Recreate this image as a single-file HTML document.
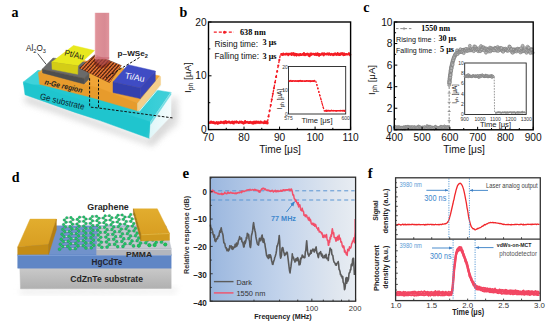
<!DOCTYPE html>
<html><head><meta charset="utf-8"><title>Figure</title>
<style>html,body{margin:0;padding:0;background:#fff;width:550px;height:324px;overflow:hidden}svg{display:block}</style>
</head><body>
<svg width="550" height="324" viewBox="0 0 550 324">
<rect width="550" height="324" fill="#fff"/>
<defs><filter id="blur3" x="-20%" y="-20%" width="140%" height="140%"><feGaussianBlur stdDeviation="3"/></filter><filter id="blur1" x="-20%" y="-20%" width="140%" height="140%"><feGaussianBlur stdDeviation="0.6"/></filter><linearGradient id="laser" x1="0" x2="1" y1="0" y2="0"><stop offset="0" stop-color="#eaa6ad"/><stop offset="0.12" stop-color="#dc8890"/><stop offset="0.7" stop-color="#d5808a"/><stop offset="1" stop-color="#de8c95"/></linearGradient><linearGradient id="laserv" x1="0" x2="0" y1="0" y2="1"><stop offset="0" stop-color="#fff" stop-opacity="0.35"/><stop offset="1" stop-color="#fff" stop-opacity="0"/></linearGradient><linearGradient id="cyanR" x1="0" x2="1" y1="0" y2="0"><stop offset="0" stop-color="#dff6f8"/><stop offset="1" stop-color="#f4fcfd"/></linearGradient><linearGradient id="gold" x1="0" x2="0" y1="0" y2="1"><stop offset="0" stop-color="#e2ad2e"/><stop offset="1" stop-color="#d89e22"/></linearGradient><linearGradient id="subd" x1="0" x2="0" y1="0" y2="1"><stop offset="0" stop-color="#c9c9c9"/><stop offset="1" stop-color="#b0b0b0"/></linearGradient><linearGradient id="cyanT" gradientUnits="userSpaceOnUse" x1="120" y1="0" x2="160" y2="0"><stop offset="0" stop-color="#22c8d1"/><stop offset="1" stop-color="#3ccfd8"/></linearGradient><clipPath id="flake"><polygon points="95,54.7 121.3,65.5 109.5,82.6 79.4,68"/></clipPath></defs>
<polygon points="26,95 150,140 172,108 176,112 152,146 24,102" fill="#cfcfcf" filter="url(#blur3)" opacity="0.8"/>
<polygon points="38,70.5 171,92.4 150.6,124 23.3,84" fill="url(#cyanT)"  stroke="url(#cyanT)" stroke-width="0.45" stroke-linejoin="round"/>
<polygon points="38,70.5 46,71.8 40,84.5 30,84.2 23.3,82" fill="#3ed2da"  stroke="#3ed2da" stroke-width="0.45" stroke-linejoin="round"/>
<polygon points="23.3,82 150.6,122 149.6,138.5 100,120.6 75,112.4 25,94.7" fill="#1fc5ce"  stroke="#1fc5ce" stroke-width="0.45" stroke-linejoin="round"/>
<polygon points="172,96 178,98 178,124 152,145 150,140" fill="#d4d4d4" filter="url(#blur3)" opacity="0.7"/>
<polygon points="150.6,122 171,92.4 171,116.3 149.6,138.5" fill="url(#cyanR)"  stroke="url(#cyanR)" stroke-width="0.45" stroke-linejoin="round"/>
<polygon points="150.6,122 171,92.4 171,94.6 150.6,124.5" fill="#6fdce2"  stroke="#6fdce2" stroke-width="0.45" stroke-linejoin="round"/>
<polygon points="62,56 160,76 137.6,103.5 38.4,72.4" fill="#efa436"  stroke="#efa436" stroke-width="0.45" stroke-linejoin="round"/>
<polygon points="38.4,72.4 100,88.4 137.4,103.5 137.4,110.8 90,97 39.7,84.3" fill="#e79b2c"  stroke="#e79b2c" stroke-width="0.45" stroke-linejoin="round"/>
<polygon points="137.4,103.5 160,76 160.6,77 160.6,85 139.5,110.3 137.4,111" fill="#f4cf8c"  stroke="#f4cf8c" stroke-width="0.45" stroke-linejoin="round"/>
<polyline points="139,111.6 161,85.6" fill="none" stroke="#e8fbfc" stroke-width="0.9" stroke-linejoin="round" />
<polygon points="53,58 99,64 84,78.4 42.1,69.2" fill="#6a6a6a"  stroke="#6a6a6a" stroke-width="0.45" stroke-linejoin="round"/>
<polygon points="42.1,69.2 84,78.4 84,84 42.6,72.9" fill="#4e4e4e"  stroke="#4e4e4e" stroke-width="0.45" stroke-linejoin="round"/>
<polygon points="84,78.4 89,73.5 89,79 84,84" fill="#5a5a5a"  stroke="#5a5a5a" stroke-width="0.45" stroke-linejoin="round"/>
<polygon points="73.5,45.5 94.5,50.5 78,65.7 51.8,62.1" fill="#e8e81e"  stroke="#e8e81e" stroke-width="0.45" stroke-linejoin="round"/>
<polygon points="51.8,62.1 78,65.7 77.7,74.3 52.1,69.3" fill="#d4cd16"  stroke="#d4cd16" stroke-width="0.45" stroke-linejoin="round"/>
<polygon points="95,54.7 121.3,65.5 109.5,82.6 79.4,68" fill="#4a2212"  stroke="#4a2212" stroke-width="0.45" stroke-linejoin="round"/>
<g clip-path="url(#flake)"><path d="M47.11,73.98L100.95,14.78M49.1,75.79L102.94,16.59M51.1,77.61L104.94,18.41M53.1,79.43L106.94,20.23M55.1,81.25L108.94,22.05M57.1,83.06L110.94,23.86M59.09,84.88L112.93,25.68M61.09,86.7L114.93,27.5M63.09,88.51L116.93,29.31M65.09,90.33L118.93,31.13M67.09,92.15L120.93,32.95M69.08,93.97L122.92,34.77M71.08,95.78L124.92,36.58M73.08,97.6L126.92,38.4M75.08,99.42L128.92,40.22M77.08,101.23L130.92,42.03M79.07,103.05L132.91,43.85M81.07,104.87L134.91,45.67M83.07,106.69L136.91,47.49M85.07,108.5L138.91,49.3M87.07,110.32L140.91,51.12M89.06,112.14L142.9,52.94M91.06,113.95L144.9,54.75M93.06,115.77L146.9,56.57M95.06,117.59L148.9,58.39M97.06,119.41L150.9,60.21M99.05,121.22L152.89,62.02" stroke="#c45a22" stroke-width="1.6"/><path d="M47.11,73.98L100.95,14.78M49.1,75.79L102.94,16.59M51.1,77.61L104.94,18.41M53.1,79.43L106.94,20.23M55.1,81.25L108.94,22.05M57.1,83.06L110.94,23.86M59.09,84.88L112.93,25.68M61.09,86.7L114.93,27.5M63.09,88.51L116.93,29.31M65.09,90.33L118.93,31.13M67.09,92.15L120.93,32.95M69.08,93.97L122.92,34.77M71.08,95.78L124.92,36.58M73.08,97.6L126.92,38.4M75.08,99.42L128.92,40.22M77.08,101.23L130.92,42.03M79.07,103.05L132.91,43.85M81.07,104.87L134.91,45.67M83.07,106.69L136.91,47.49M85.07,108.5L138.91,49.3M87.07,110.32L140.91,51.12M89.06,112.14L142.9,52.94M91.06,113.95L144.9,54.75M93.06,115.77L146.9,56.57M95.06,117.59L148.9,58.39M97.06,119.41L150.9,60.21M99.05,121.22L152.89,62.02" stroke="#f08040" stroke-width="1.2" stroke-linecap="round" stroke-dasharray="0.3,1.8"/></g>
<g clip-path="url(#flake)"><ellipse cx="102" cy="62" rx="8" ry="6" fill="#6a1414" opacity="0.5"/></g>
<rect x="94.8" y="12.8" width="14.4" height="46.5" fill="url(#laser)" opacity="0.92"/>
<polygon points="95,57 109.2,57 109.2,62 102,66 95,61" fill="#c8606a" opacity="0.45"/>
<polygon points="128,64.7 155.3,71 140.5,88 113,82" fill="#3f4cc4"  stroke="#3f4cc4" stroke-width="0.45" stroke-linejoin="round"/>
<polygon points="113,82 140.5,88 140.2,98.6 113,92.6" fill="#3340ad"  stroke="#3340ad" stroke-width="0.45" stroke-linejoin="round"/>
<polygon points="140.5,88 155.3,71 155.3,81 140.2,98.6" fill="#3944b6"  stroke="#3944b6" stroke-width="0.45" stroke-linejoin="round"/>
<path d="M139.5,57.5L106,77.5 M89.6,78.2V105.5Q89.6,107 91,107.2L98.5,108 M98.5,79.5V108 L172.5,117.9" stroke="#111" stroke-width="1" stroke-dasharray="2.6,1.6" fill="none"/>
<text x="26" y="50.7" font-family="Liberation Sans" font-size="9" fill="#222" textLength="20" lengthAdjust="spacingAndGlyphs">Al<tspan font-size="6.2" dy="1.8">2</tspan><tspan dy="-1.8">O</tspan><tspan font-size="6.2" dy="1.8">3</tspan></text>
<path d="M37.7,53.6L46.2,64.4" stroke="#222" stroke-width="0.8"/>
<text transform="translate(64,55.3) rotate(13.3)" font-family="Liberation Sans" font-size="8.6" fill="#1a1a1a" textLength="19.5" lengthAdjust="spacingAndGlyphs">Pt/Au</text>
<text x="117.6" y="55.9" font-family="Liberation Sans" font-size="7.8" font-weight="bold" fill="#1a1a1a" textLength="30.4" lengthAdjust="spacingAndGlyphs">p&#8211;WSe<tspan font-size="5.4" dy="1.8">2</tspan></text>
<text transform="translate(124.4,78.2) rotate(11)" font-family="Liberation Sans" font-size="8.6" fill="#fff" textLength="20" lengthAdjust="spacingAndGlyphs">Ti/Au</text>
<text transform="translate(44.3,84.2) rotate(13.1)" font-family="Liberation Sans" font-size="7.6" font-style="italic" font-weight="bold" fill="#1e1e1e" textLength="38.5" lengthAdjust="spacingAndGlyphs">n-Ge region</text>
<text transform="translate(39.6,99) rotate(13.6)" font-family="Liberation Sans" font-size="8.8" fill="#0b2630" textLength="45.5" lengthAdjust="spacingAndGlyphs">Ge substrate</text>
<polygon points="20,289 172,289 176,286 176,293 20,294" fill="#dedede" filter="url(#blur3)" opacity="0.6"/>
<polygon points="19.8,268.1 171.2,268.1 171.2,288.4 20.5,288.8" fill="url(#subd)"  stroke="url(#subd)" stroke-width="0.45" stroke-linejoin="round"/>
<polygon points="44,225.8 166,225.8 171.2,255 17.7,255" fill="#7192cb"  stroke="#7192cb" stroke-width="0.45" stroke-linejoin="round"/>
<polygon points="17.7,254.8 171.2,254.8 171.2,268.2 17.7,268.2" fill="#5f86c5"  stroke="#5f86c5" stroke-width="0.45" stroke-linejoin="round"/>
<polyline points="17.7,255.4 171.2,255.4" fill="none" stroke="#7c9ed6" stroke-width="1.0" stroke-linejoin="round" />
<polygon points="98.5,226.5 166,226.5 171.2,248.5 96.6,248.5" fill="#c3c7cf"  stroke="#c3c7cf" stroke-width="0.45" stroke-linejoin="round"/>
<polygon points="96.6,248.5 171.2,248.5 171.2,255 96.6,255" fill="#b2b6be"  stroke="#b2b6be" stroke-width="0.45" stroke-linejoin="round"/>
<polyline points="96.6,249.3 171.2,249.3" fill="none" stroke="#d2d5db" stroke-width="1.0" stroke-linejoin="round" />
<path d="M64.01,236.59L68.88,236.37M127.41,233.64L130.57,235.96M151.8,232.5L156.67,232.27M145.41,218.25L149.82,218.04M132.32,226.04L133.81,223.55M138.37,223.32L139.73,220.89M140.2,228.11L141.6,225.59M78.64,235.91L83.52,235.68M111.89,229.46L114.73,231.75M83.44,240.63L85.96,238.02M96.96,220.64L99.39,222.86M93.77,245.15L98.97,244.92M133.92,230.85L137.17,233.18M83.74,221.3L85.95,223.52M65.43,226.86L69.99,226.64M100.34,232.43L105.14,232.2M105.12,215.86L109.38,215.64M116.26,217.43L117.9,215.21M75.72,243.48L78.4,240.86M63.54,224.61L66.12,222.17M108.64,239.47L113.67,239.24M68.32,241.32L71.08,238.71M143.91,237.85L147.42,240.22M156.21,242.34L161.41,242.1M111.02,224.65L112.84,222.2M126.05,228.78L127.69,226.26M76.67,228.71L78.87,231.03M90.75,232.88L93.27,235.23M83.67,225.97L85.95,223.52M161.41,242.1L162.79,239.52M105.79,237.1L107.9,234.55M70.53,221.95L72.95,219.59M69.44,231.47L72.04,228.93M98.15,235L100.83,237.33M106.46,224.87L111.02,224.65M62.76,229.38L64.72,231.7M63.28,241.55L68.32,241.32M69.44,231.47L71.56,233.78M133.92,230.85L135.48,228.34M103.87,222.64L105.77,220.21M145.8,242.81L147.42,240.22M146.24,225.37L149.63,227.66M77.28,219.37L79.34,221.51M119.53,231.53L121.33,229.01M128.79,238.55L132.05,240.92M127.69,226.26L132.32,226.04M71.56,233.78L76.36,233.56M75.39,248.51L78.16,245.86M71.08,238.71L76.04,238.48M70.53,221.95L72.5,224.18M117.32,221.99L118.98,219.56M118.98,219.56L123.39,219.34M64.28,220.02L66.12,222.17M97.74,230.13L99.86,227.6M124.99,243.75L130.19,243.51M152.54,239.99L153.99,237.39M145.45,235.27L150.41,235.04M138.83,245.67L140.6,243.04M111.89,229.46L113.77,226.93M91.08,242.79L93.77,245.15M153.99,237.39L159.03,237.16M137.17,233.18L142.04,232.95M132.2,218.91L136.6,218.69M83.59,230.8L85.95,228.26M122.53,233.86L127.41,233.64M130.19,243.51L132.05,240.92M150.41,235.04L153.99,237.39M97.34,225.31L99.39,222.86M118.41,226.71L121.33,229.01M98.56,239.94L101.32,242.32M69.99,226.64L72.5,224.18M85.94,218.94L90.27,218.73M107.18,229.68L111.89,229.46M129.26,216.79L130.69,214.57M66.76,217.79L71.02,217.57M91.25,247.8L93.77,245.15M76.67,228.71L79.11,226.19M130.76,221.33L133.81,223.55M60.35,244.18L63.28,241.55M79.55,217.14L83.81,216.93M135.53,235.73L137.17,233.18M113.67,239.24L116.69,241.62M113.77,226.93L118.41,226.71M121.81,241.39L123.75,238.78M90.75,232.88L93.03,230.35M99.86,227.6L104.5,227.37M90.91,237.79L93.27,235.23M68.32,241.32L70.59,243.72M103.27,218.08L105.77,220.21M90.43,223.3L92.78,225.53M93.27,235.23L98.15,235M98.97,244.92L101.32,242.32M79.11,226.19L83.67,225.97M104.5,227.37L107.18,229.68M75.72,243.48L78.16,245.86M83.44,240.63L85.96,243.02M59.53,249.22L62.55,246.56M92.55,220.86L96.96,220.64M114.58,244.21L116.69,241.62M152.05,222.66L155.51,224.93M161.41,242.1L165.26,244.48M83.36,245.62L85.96,243.02M105.79,237.1L108.64,239.47M142.25,216.14L145.41,218.25M129.12,231.07L133.92,230.85M141.6,225.59L146.24,225.37M106.45,242.09L108.64,239.47M90.27,218.73L92.33,216.5M138.37,223.32L141.6,225.59M67.75,246.33L70.59,243.72M76.98,223.96L79.11,226.19M90.59,228.04L93.03,230.35M64.72,231.7L69.44,231.47M76.04,238.48L78.64,235.91M124.7,223.99L127.69,226.26M62.55,246.56L67.75,246.33M72.04,228.93L76.67,228.71M78.87,231.03L83.59,230.8M93.52,240.17L98.56,239.94M61.17,239.17L64.01,236.59M70.59,243.72L75.72,243.48M144.21,220.67L147.49,222.88M85.95,228.26L90.59,228.04M136.6,218.69L137.92,216.35M62.76,229.38L65.43,226.86M122.17,215L124.93,217M121.81,241.39L124.99,243.75M154.69,244.96L156.21,242.34M109.38,244.45L114.58,244.21M130.19,243.51L133.54,245.9M147.42,240.22L152.54,239.99M76.36,233.56L78.64,235.91M126.28,221.55L130.76,221.33M149.82,218.04L150.92,215.71M105.14,232.2L107.9,234.55M78.4,240.86L83.44,240.63M132.05,240.92L137.18,240.69M77.28,219.37L79.55,217.14M145.8,242.81L149.4,245.19M129.26,216.79L132.2,218.91M116.26,217.43L118.98,219.56M61.97,234.24L64.01,236.59M133.81,223.55L138.37,223.32M142.04,232.95L143.51,230.4M143.48,213.93L147.74,213.71M138.87,238.09L143.91,237.85M60.35,244.18L62.55,246.56M123.75,238.78L128.79,238.55M135.53,235.73L138.87,238.09M134.95,214.36L137.92,216.35M156.67,232.27L160.32,234.58M149.4,245.19L154.69,244.96M96.6,216.29L98.94,218.3M111.02,224.65L113.77,226.93M111.93,217.65L116.26,217.43M135.48,228.34L140.2,228.11M156.67,232.27L157.9,229.72M83.67,225.97L85.95,228.26M85.95,233.11L90.75,232.88M122.97,246.38L124.99,243.75M147.74,213.71L150.92,215.71M76.36,233.56L78.87,231.03M92.78,225.53L97.34,225.31M107.11,247.09L109.38,244.45M146.24,225.37L147.49,222.88M117.9,215.21L122.17,215M124.93,217L129.26,216.79M97.34,225.31L99.86,227.6M109.38,215.64L111.93,217.65M98.97,244.92L101.82,247.32M120.66,236.41L122.53,233.86M105.77,220.21L110.17,219.99M63.54,224.61L65.43,226.86M76.04,238.48L78.4,240.86M114.58,244.21L117.68,246.61M147.49,222.88L152.05,222.66M116.69,241.62L121.81,241.39M117.32,221.99L120.14,224.21M83.36,245.62L85.96,248.03M101.32,242.32L106.45,242.09M85.96,243.02L91.08,242.79M90.91,237.79L93.52,240.17M90.27,218.73L92.55,220.86M120.14,224.21L124.7,223.99M66.12,222.17L70.53,221.95M130.69,214.57L134.95,214.36M76.98,223.96L79.34,221.51M152.54,239.99L156.21,242.34M149.82,218.04L153.17,220.23M103.27,218.08L105.12,215.86M98.15,235L100.34,232.43M159.03,237.16L160.32,234.58M119.53,231.53L122.53,233.86M112.78,234.32L114.73,231.75M112.84,222.2L117.32,221.99M133.54,245.9L138.83,245.67M142.04,232.95L145.45,235.27M118.41,226.71L120.14,224.21M159.03,237.16L162.79,239.52M104.5,227.37L106.46,224.87M85.95,223.52L90.43,223.3M78.16,245.86L83.36,245.62M69.99,226.64L72.04,228.93M139.73,220.89L144.21,220.67M72.95,219.59L77.28,219.37M93.03,230.35L97.74,230.13M123.39,219.34L124.93,217M130.76,221.33L132.2,218.91M149.63,227.66L154.35,227.44M92.33,216.5L96.6,216.29M126.05,228.78L129.12,231.07M117.68,246.61L122.97,246.38M101.82,247.32L107.11,247.09M91.08,242.79L93.52,240.17M68.88,236.37L71.56,233.78M72.5,224.18L76.98,223.96M85.96,248.03L91.25,247.8M142.25,216.14L143.48,213.93M98.94,218.3L103.27,218.08M112.78,234.32L115.7,236.64M137.92,216.35L142.25,216.14M71.02,217.57L72.95,219.59M143.51,230.4L148.31,230.17M128.79,238.55L130.57,235.96M83.52,235.68L85.96,238.02M127.41,233.64L129.12,231.07M154.35,227.44L157.9,229.72M123.39,219.34L126.28,221.55M106.45,242.09L109.38,244.45M132.32,226.04L135.48,228.34M67.75,246.33L70.1,248.74M140.2,228.11L143.51,230.4M79.34,221.51L83.74,221.3M90.59,228.04L92.78,225.53M83.81,216.93L85.94,218.94M143.91,237.85L145.45,235.27M83.74,221.3L85.94,218.94M103.87,222.64L106.46,224.87M96.96,220.64L98.94,218.3M107.9,234.55L112.78,234.32M136.6,218.69L139.73,220.89M140.6,243.04L145.8,242.81M152.05,222.66L153.17,220.23M61.17,239.17L63.28,241.55M64.28,220.02L66.76,217.79M137.18,240.69L138.87,238.09M148.31,230.17L151.8,232.5M130.57,235.96L135.53,235.73M98.56,239.94L100.83,237.33M83.59,230.8L85.95,233.11M110.17,219.99L111.93,217.65M99.39,222.86L103.87,222.64M121.33,229.01L126.05,228.78M154.35,227.44L155.51,224.93M90.43,223.3L92.55,220.86M124.7,223.99L126.28,221.55M83.52,235.68L85.95,233.11M150.41,235.04L151.8,232.5M70.1,248.74L75.39,248.51M120.66,236.41L123.75,238.78M115.7,236.64L120.66,236.41M105.14,232.2L107.18,229.68M100.83,237.33L105.79,237.1M113.67,239.24L115.7,236.64M85.96,238.02L90.91,237.79M114.73,231.75L119.53,231.53M68.88,236.37L71.08,238.71M110.17,219.99L112.84,222.2M61.97,234.24L64.72,231.7M144.21,220.67L145.41,218.25M148.31,230.17L149.63,227.66M137.18,240.69L140.6,243.04M97.74,230.13L100.34,232.43" stroke="#2a323a" stroke-width="1.4" opacity="0.5"/>
<path d="M64.01,236.59L68.88,236.37M127.41,233.64L130.57,235.96M151.8,232.5L156.67,232.27M145.41,218.25L149.82,218.04M132.32,226.04L133.81,223.55M138.37,223.32L139.73,220.89M140.2,228.11L141.6,225.59M78.64,235.91L83.52,235.68M111.89,229.46L114.73,231.75M83.44,240.63L85.96,238.02M96.96,220.64L99.39,222.86M93.77,245.15L98.97,244.92M133.92,230.85L137.17,233.18M83.74,221.3L85.95,223.52M65.43,226.86L69.99,226.64M100.34,232.43L105.14,232.2M105.12,215.86L109.38,215.64M116.26,217.43L117.9,215.21M75.72,243.48L78.4,240.86M63.54,224.61L66.12,222.17M108.64,239.47L113.67,239.24M68.32,241.32L71.08,238.71M143.91,237.85L147.42,240.22M156.21,242.34L161.41,242.1M111.02,224.65L112.84,222.2M126.05,228.78L127.69,226.26M76.67,228.71L78.87,231.03M90.75,232.88L93.27,235.23M83.67,225.97L85.95,223.52M161.41,242.1L162.79,239.52M105.79,237.1L107.9,234.55M70.53,221.95L72.95,219.59M69.44,231.47L72.04,228.93M98.15,235L100.83,237.33M106.46,224.87L111.02,224.65M62.76,229.38L64.72,231.7M63.28,241.55L68.32,241.32M69.44,231.47L71.56,233.78M133.92,230.85L135.48,228.34M103.87,222.64L105.77,220.21M145.8,242.81L147.42,240.22M146.24,225.37L149.63,227.66M77.28,219.37L79.34,221.51M119.53,231.53L121.33,229.01M128.79,238.55L132.05,240.92M127.69,226.26L132.32,226.04M71.56,233.78L76.36,233.56M75.39,248.51L78.16,245.86M71.08,238.71L76.04,238.48M70.53,221.95L72.5,224.18M117.32,221.99L118.98,219.56M118.98,219.56L123.39,219.34M64.28,220.02L66.12,222.17M97.74,230.13L99.86,227.6M124.99,243.75L130.19,243.51M152.54,239.99L153.99,237.39M145.45,235.27L150.41,235.04M138.83,245.67L140.6,243.04M111.89,229.46L113.77,226.93M91.08,242.79L93.77,245.15M153.99,237.39L159.03,237.16M137.17,233.18L142.04,232.95M132.2,218.91L136.6,218.69M83.59,230.8L85.95,228.26M122.53,233.86L127.41,233.64M130.19,243.51L132.05,240.92M150.41,235.04L153.99,237.39M97.34,225.31L99.39,222.86M118.41,226.71L121.33,229.01M98.56,239.94L101.32,242.32M69.99,226.64L72.5,224.18M85.94,218.94L90.27,218.73M107.18,229.68L111.89,229.46M129.26,216.79L130.69,214.57M66.76,217.79L71.02,217.57M91.25,247.8L93.77,245.15M76.67,228.71L79.11,226.19M130.76,221.33L133.81,223.55M60.35,244.18L63.28,241.55M79.55,217.14L83.81,216.93M135.53,235.73L137.17,233.18M113.67,239.24L116.69,241.62M113.77,226.93L118.41,226.71M121.81,241.39L123.75,238.78M90.75,232.88L93.03,230.35M99.86,227.6L104.5,227.37M90.91,237.79L93.27,235.23M68.32,241.32L70.59,243.72M103.27,218.08L105.77,220.21M90.43,223.3L92.78,225.53M93.27,235.23L98.15,235M98.97,244.92L101.32,242.32M79.11,226.19L83.67,225.97M104.5,227.37L107.18,229.68M75.72,243.48L78.16,245.86M83.44,240.63L85.96,243.02M59.53,249.22L62.55,246.56M92.55,220.86L96.96,220.64M114.58,244.21L116.69,241.62M152.05,222.66L155.51,224.93M161.41,242.1L165.26,244.48M83.36,245.62L85.96,243.02M105.79,237.1L108.64,239.47M142.25,216.14L145.41,218.25M129.12,231.07L133.92,230.85M141.6,225.59L146.24,225.37M106.45,242.09L108.64,239.47M90.27,218.73L92.33,216.5M138.37,223.32L141.6,225.59M67.75,246.33L70.59,243.72M76.98,223.96L79.11,226.19M90.59,228.04L93.03,230.35M64.72,231.7L69.44,231.47M76.04,238.48L78.64,235.91M124.7,223.99L127.69,226.26M62.55,246.56L67.75,246.33M72.04,228.93L76.67,228.71M78.87,231.03L83.59,230.8M93.52,240.17L98.56,239.94M61.17,239.17L64.01,236.59M70.59,243.72L75.72,243.48M144.21,220.67L147.49,222.88M85.95,228.26L90.59,228.04M136.6,218.69L137.92,216.35M62.76,229.38L65.43,226.86M122.17,215L124.93,217M121.81,241.39L124.99,243.75M154.69,244.96L156.21,242.34M109.38,244.45L114.58,244.21M130.19,243.51L133.54,245.9M147.42,240.22L152.54,239.99M76.36,233.56L78.64,235.91M126.28,221.55L130.76,221.33M149.82,218.04L150.92,215.71M105.14,232.2L107.9,234.55M78.4,240.86L83.44,240.63M132.05,240.92L137.18,240.69M77.28,219.37L79.55,217.14M145.8,242.81L149.4,245.19M129.26,216.79L132.2,218.91M116.26,217.43L118.98,219.56M61.97,234.24L64.01,236.59M133.81,223.55L138.37,223.32M142.04,232.95L143.51,230.4M143.48,213.93L147.74,213.71M138.87,238.09L143.91,237.85M60.35,244.18L62.55,246.56M123.75,238.78L128.79,238.55M135.53,235.73L138.87,238.09M134.95,214.36L137.92,216.35M156.67,232.27L160.32,234.58M149.4,245.19L154.69,244.96M96.6,216.29L98.94,218.3M111.02,224.65L113.77,226.93M111.93,217.65L116.26,217.43M135.48,228.34L140.2,228.11M156.67,232.27L157.9,229.72M83.67,225.97L85.95,228.26M85.95,233.11L90.75,232.88M122.97,246.38L124.99,243.75M147.74,213.71L150.92,215.71M76.36,233.56L78.87,231.03M92.78,225.53L97.34,225.31M107.11,247.09L109.38,244.45M146.24,225.37L147.49,222.88M117.9,215.21L122.17,215M124.93,217L129.26,216.79M97.34,225.31L99.86,227.6M109.38,215.64L111.93,217.65M98.97,244.92L101.82,247.32M120.66,236.41L122.53,233.86M105.77,220.21L110.17,219.99M63.54,224.61L65.43,226.86M76.04,238.48L78.4,240.86M114.58,244.21L117.68,246.61M147.49,222.88L152.05,222.66M116.69,241.62L121.81,241.39M117.32,221.99L120.14,224.21M83.36,245.62L85.96,248.03M101.32,242.32L106.45,242.09M85.96,243.02L91.08,242.79M90.91,237.79L93.52,240.17M90.27,218.73L92.55,220.86M120.14,224.21L124.7,223.99M66.12,222.17L70.53,221.95M130.69,214.57L134.95,214.36M76.98,223.96L79.34,221.51M152.54,239.99L156.21,242.34M149.82,218.04L153.17,220.23M103.27,218.08L105.12,215.86M98.15,235L100.34,232.43M159.03,237.16L160.32,234.58M119.53,231.53L122.53,233.86M112.78,234.32L114.73,231.75M112.84,222.2L117.32,221.99M133.54,245.9L138.83,245.67M142.04,232.95L145.45,235.27M118.41,226.71L120.14,224.21M159.03,237.16L162.79,239.52M104.5,227.37L106.46,224.87M85.95,223.52L90.43,223.3M78.16,245.86L83.36,245.62M69.99,226.64L72.04,228.93M139.73,220.89L144.21,220.67M72.95,219.59L77.28,219.37M93.03,230.35L97.74,230.13M123.39,219.34L124.93,217M130.76,221.33L132.2,218.91M149.63,227.66L154.35,227.44M92.33,216.5L96.6,216.29M126.05,228.78L129.12,231.07M117.68,246.61L122.97,246.38M101.82,247.32L107.11,247.09M91.08,242.79L93.52,240.17M68.88,236.37L71.56,233.78M72.5,224.18L76.98,223.96M85.96,248.03L91.25,247.8M142.25,216.14L143.48,213.93M98.94,218.3L103.27,218.08M112.78,234.32L115.7,236.64M137.92,216.35L142.25,216.14M71.02,217.57L72.95,219.59M143.51,230.4L148.31,230.17M128.79,238.55L130.57,235.96M83.52,235.68L85.96,238.02M127.41,233.64L129.12,231.07M154.35,227.44L157.9,229.72M123.39,219.34L126.28,221.55M106.45,242.09L109.38,244.45M132.32,226.04L135.48,228.34M67.75,246.33L70.1,248.74M140.2,228.11L143.51,230.4M79.34,221.51L83.74,221.3M90.59,228.04L92.78,225.53M83.81,216.93L85.94,218.94M143.91,237.85L145.45,235.27M83.74,221.3L85.94,218.94M103.87,222.64L106.46,224.87M96.96,220.64L98.94,218.3M107.9,234.55L112.78,234.32M136.6,218.69L139.73,220.89M140.6,243.04L145.8,242.81M152.05,222.66L153.17,220.23M61.17,239.17L63.28,241.55M64.28,220.02L66.76,217.79M137.18,240.69L138.87,238.09M148.31,230.17L151.8,232.5M130.57,235.96L135.53,235.73M98.56,239.94L100.83,237.33M83.59,230.8L85.95,233.11M110.17,219.99L111.93,217.65M99.39,222.86L103.87,222.64M121.33,229.01L126.05,228.78M154.35,227.44L155.51,224.93M90.43,223.3L92.55,220.86M124.7,223.99L126.28,221.55M83.52,235.68L85.95,233.11M150.41,235.04L151.8,232.5M70.1,248.74L75.39,248.51M120.66,236.41L123.75,238.78M115.7,236.64L120.66,236.41M105.14,232.2L107.18,229.68M100.83,237.33L105.79,237.1M113.67,239.24L115.7,236.64M85.96,238.02L90.91,237.79M114.73,231.75L119.53,231.53M68.88,236.37L71.08,238.71M110.17,219.99L112.84,222.2M61.97,234.24L64.72,231.7M144.21,220.67L145.41,218.25M148.31,230.17L149.63,227.66M137.18,240.69L140.6,243.04M97.74,230.13L100.34,232.43" stroke="#f4f6f8" stroke-width="0.85"/>
<g fill="#21c268" stroke="#12894a" stroke-width="0.3"><circle cx="79.55" cy="217.14" r="1.25"/><circle cx="143.48" cy="213.93" r="1.25"/><circle cx="96.6" cy="216.29" r="1.25"/><circle cx="109.38" cy="215.64" r="1.25"/><circle cx="134.95" cy="214.36" r="1.25"/><circle cx="83.81" cy="216.93" r="1.25"/><circle cx="92.33" cy="216.5" r="1.25"/><circle cx="117.9" cy="215.21" r="1.25"/><circle cx="66.76" cy="217.79" r="1.25"/><circle cx="122.17" cy="215" r="1.25"/><circle cx="130.69" cy="214.57" r="1.25"/><circle cx="147.74" cy="213.71" r="1.25"/><circle cx="105.12" cy="215.86" r="1.25"/><circle cx="71.02" cy="217.57" r="1.25"/><circle cx="77.28" cy="219.37" r="1.27"/><circle cx="124.93" cy="217" r="1.27"/><circle cx="90.27" cy="218.73" r="1.27"/><circle cx="116.26" cy="217.43" r="1.27"/><circle cx="103.27" cy="218.08" r="1.27"/><circle cx="129.26" cy="216.79" r="1.27"/><circle cx="72.95" cy="219.59" r="1.27"/><circle cx="98.94" cy="218.3" r="1.27"/><circle cx="85.94" cy="218.94" r="1.27"/><circle cx="64.28" cy="220.02" r="1.27"/><circle cx="111.93" cy="217.65" r="1.27"/><circle cx="137.92" cy="216.35" r="1.27"/><circle cx="150.92" cy="215.71" r="1.27"/><circle cx="142.25" cy="216.14" r="1.27"/><circle cx="83.74" cy="221.3" r="1.29"/><circle cx="92.55" cy="220.86" r="1.29"/><circle cx="118.98" cy="219.56" r="1.29"/><circle cx="66.12" cy="222.17" r="1.29"/><circle cx="123.39" cy="219.34" r="1.29"/><circle cx="132.2" cy="218.91" r="1.29"/><circle cx="149.82" cy="218.04" r="1.29"/><circle cx="105.77" cy="220.21" r="1.29"/><circle cx="70.53" cy="221.95" r="1.29"/><circle cx="79.34" cy="221.51" r="1.29"/><circle cx="145.41" cy="218.25" r="1.29"/><circle cx="96.96" cy="220.64" r="1.29"/><circle cx="110.17" cy="219.99" r="1.29"/><circle cx="136.6" cy="218.69" r="1.29"/><circle cx="85.95" cy="223.52" r="1.31"/><circle cx="144.21" cy="220.67" r="1.31"/><circle cx="76.98" cy="223.96" r="1.31"/><circle cx="126.28" cy="221.55" r="1.31"/><circle cx="153.17" cy="220.23" r="1.31"/><circle cx="117.32" cy="221.99" r="1.31"/><circle cx="72.5" cy="224.18" r="1.31"/><circle cx="90.43" cy="223.3" r="1.31"/><circle cx="99.39" cy="222.86" r="1.31"/><circle cx="103.87" cy="222.64" r="1.31"/><circle cx="63.54" cy="224.61" r="1.31"/><circle cx="112.84" cy="222.2" r="1.31"/><circle cx="130.76" cy="221.33" r="1.31"/><circle cx="139.73" cy="220.89" r="1.31"/><circle cx="69.99" cy="226.64" r="1.34"/><circle cx="79.11" cy="226.19" r="1.34"/><circle cx="97.34" cy="225.31" r="1.34"/><circle cx="147.49" cy="222.88" r="1.34"/><circle cx="111.02" cy="224.65" r="1.34"/><circle cx="138.37" cy="223.32" r="1.34"/><circle cx="65.43" cy="226.86" r="1.34"/><circle cx="83.67" cy="225.97" r="1.34"/><circle cx="92.78" cy="225.53" r="1.34"/><circle cx="120.14" cy="224.21" r="1.34"/><circle cx="124.7" cy="223.99" r="1.34"/><circle cx="133.81" cy="223.55" r="1.34"/><circle cx="152.05" cy="222.66" r="1.34"/><circle cx="106.46" cy="224.87" r="1.34"/><circle cx="72.04" cy="228.93" r="1.36"/><circle cx="99.86" cy="227.6" r="1.36"/><circle cx="104.5" cy="227.37" r="1.36"/><circle cx="62.76" cy="229.38" r="1.36"/><circle cx="113.77" cy="226.93" r="1.36"/><circle cx="132.32" cy="226.04" r="1.36"/><circle cx="141.6" cy="225.59" r="1.36"/><circle cx="85.95" cy="228.26" r="1.36"/><circle cx="146.24" cy="225.37" r="1.36"/><circle cx="127.69" cy="226.26" r="1.36"/><circle cx="76.67" cy="228.71" r="1.36"/><circle cx="155.51" cy="224.93" r="1.36"/><circle cx="90.59" cy="228.04" r="1.36"/><circle cx="118.41" cy="226.71" r="1.36"/><circle cx="107.18" cy="229.68" r="1.38"/><circle cx="69.44" cy="231.47" r="1.38"/><circle cx="78.87" cy="231.03" r="1.38"/><circle cx="149.63" cy="227.66" r="1.38"/><circle cx="97.74" cy="230.13" r="1.38"/><circle cx="111.89" cy="229.46" r="1.38"/><circle cx="140.2" cy="228.11" r="1.38"/><circle cx="83.59" cy="230.8" r="1.38"/><circle cx="93.03" cy="230.35" r="1.38"/><circle cx="121.33" cy="229.01" r="1.38"/><circle cx="64.72" cy="231.7" r="1.38"/><circle cx="126.05" cy="228.78" r="1.38"/><circle cx="135.48" cy="228.34" r="1.38"/><circle cx="154.35" cy="227.44" r="1.38"/><circle cx="76.36" cy="233.56" r="1.4"/><circle cx="90.75" cy="232.88" r="1.4"/><circle cx="119.53" cy="231.53" r="1.4"/><circle cx="105.14" cy="232.2" r="1.4"/><circle cx="133.92" cy="230.85" r="1.4"/><circle cx="71.56" cy="233.78" r="1.4"/><circle cx="100.34" cy="232.43" r="1.4"/><circle cx="85.95" cy="233.11" r="1.4"/><circle cx="114.73" cy="231.75" r="1.4"/><circle cx="61.97" cy="234.24" r="1.4"/><circle cx="143.51" cy="230.4" r="1.4"/><circle cx="129.12" cy="231.07" r="1.4"/><circle cx="157.9" cy="229.72" r="1.4"/><circle cx="148.31" cy="230.17" r="1.4"/><circle cx="112.78" cy="234.32" r="1.42"/><circle cx="142.04" cy="232.95" r="1.42"/><circle cx="83.52" cy="235.68" r="1.42"/><circle cx="93.27" cy="235.23" r="1.42"/><circle cx="122.53" cy="233.86" r="1.42"/><circle cx="64.01" cy="236.59" r="1.42"/><circle cx="127.41" cy="233.64" r="1.42"/><circle cx="137.17" cy="233.18" r="1.42"/><circle cx="156.67" cy="232.27" r="1.42"/><circle cx="107.9" cy="234.55" r="1.42"/><circle cx="68.88" cy="236.37" r="1.42"/><circle cx="78.64" cy="235.91" r="1.42"/><circle cx="151.8" cy="232.5" r="1.42"/><circle cx="98.15" cy="235" r="1.42"/><circle cx="100.83" cy="237.33" r="1.44"/><circle cx="105.79" cy="237.1" r="1.44"/><circle cx="61.17" cy="239.17" r="1.44"/><circle cx="115.7" cy="236.64" r="1.44"/><circle cx="135.53" cy="235.73" r="1.44"/><circle cx="145.45" cy="235.27" r="1.44"/><circle cx="85.96" cy="238.02" r="1.44"/><circle cx="150.41" cy="235.04" r="1.44"/><circle cx="130.57" cy="235.96" r="1.44"/><circle cx="76.04" cy="238.48" r="1.44"/><circle cx="160.32" cy="234.58" r="1.44"/><circle cx="120.66" cy="236.41" r="1.44"/><circle cx="71.08" cy="238.71" r="1.44"/><circle cx="90.91" cy="237.79" r="1.44"/><circle cx="68.32" cy="241.32" r="1.47"/><circle cx="153.99" cy="237.39" r="1.47"/><circle cx="98.56" cy="239.94" r="1.47"/><circle cx="113.67" cy="239.24" r="1.47"/><circle cx="78.4" cy="240.86" r="1.47"/><circle cx="143.91" cy="237.85" r="1.47"/><circle cx="83.44" cy="240.63" r="1.47"/><circle cx="93.52" cy="240.17" r="1.47"/><circle cx="123.75" cy="238.78" r="1.47"/><circle cx="63.28" cy="241.55" r="1.47"/><circle cx="128.79" cy="238.55" r="1.47"/><circle cx="138.87" cy="238.09" r="1.47"/><circle cx="159.03" cy="237.16" r="1.47"/><circle cx="108.64" cy="239.47" r="1.47"/><circle cx="121.81" cy="241.39" r="1.49"/><circle cx="70.59" cy="243.72" r="1.49"/><circle cx="91.08" cy="242.79" r="1.49"/><circle cx="101.32" cy="242.32" r="1.49"/><circle cx="106.45" cy="242.09" r="1.49"/><circle cx="60.35" cy="244.18" r="1.49"/><circle cx="116.69" cy="241.62" r="1.49"/><circle cx="137.18" cy="240.69" r="1.49"/><circle cx="147.42" cy="240.22" r="1.49"/><circle cx="85.96" cy="243.02" r="1.49"/><circle cx="152.54" cy="239.99" r="1.49"/><circle cx="75.72" cy="243.48" r="1.49"/><circle cx="132.05" cy="240.92" r="1.49"/><circle cx="162.79" cy="239.52" r="1.49"/><circle cx="93.77" cy="245.15" r="1.51"/><circle cx="124.99" cy="243.75" r="1.51"/><circle cx="130.19" cy="243.51" r="1.51"/><circle cx="140.6" cy="243.04" r="1.51"/><circle cx="161.41" cy="242.1" r="1.51"/><circle cx="109.38" cy="244.45" r="1.51"/><circle cx="67.75" cy="246.33" r="1.51"/><circle cx="78.16" cy="245.86" r="1.51"/><circle cx="98.97" cy="244.92" r="1.51"/><circle cx="156.21" cy="242.34" r="1.51"/><circle cx="114.58" cy="244.21" r="1.51"/><circle cx="145.8" cy="242.81" r="1.51"/><circle cx="62.55" cy="246.56" r="1.51"/><circle cx="83.36" cy="245.62" r="1.51"/><circle cx="75.39" cy="248.51" r="1.53"/><circle cx="133.54" cy="245.9" r="1.53"/><circle cx="165.26" cy="244.48" r="1.53"/><circle cx="122.97" cy="246.38" r="1.53"/><circle cx="70.1" cy="248.74" r="1.53"/><circle cx="91.25" cy="247.8" r="1.53"/><circle cx="101.82" cy="247.32" r="1.53"/><circle cx="107.11" cy="247.09" r="1.53"/><circle cx="117.68" cy="246.61" r="1.53"/><circle cx="59.53" cy="249.22" r="1.53"/><circle cx="138.83" cy="245.67" r="1.53"/><circle cx="149.4" cy="245.19" r="1.53"/><circle cx="85.96" cy="248.03" r="1.53"/><circle cx="154.69" cy="244.96" r="1.53"/></g>
<polygon points="30.1,219.1 56.4,219.1 48.6,244.5 17.7,247" fill="url(#gold)"  stroke="url(#gold)" stroke-width="0.45" stroke-linejoin="round"/>
<polygon points="17.7,247 48.6,244.5 48.6,254.3 17.7,254.5" fill="#c48c16"  stroke="#c48c16" stroke-width="0.45" stroke-linejoin="round"/>
<polygon points="56.4,219.1 48.6,244.5 48.6,254.3 56.4,229.5" fill="#b47e12"  stroke="#b47e12" stroke-width="0.45" stroke-linejoin="round"/>
<polygon points="133.4,208.8 157.3,208.8 169.5,233.3 140.9,234.6" fill="url(#gold)"  stroke="url(#gold)" stroke-width="0.45" stroke-linejoin="round"/>
<polygon points="140.9,234.6 169.5,233.3 169.5,240.3 140.9,240.9" fill="#d09a1e"  stroke="#d09a1e" stroke-width="0.45" stroke-linejoin="round"/>
<polyline points="141.1,234.8 169.3,233.5" fill="none" stroke="#e9bd4a" stroke-width="0.7" stroke-linejoin="round" />
<polygon points="133.4,208.8 140.9,234.6 140.9,240.9 133.4,213.5" fill="#a87614"  stroke="#a87614" stroke-width="0.45" stroke-linejoin="round"/>
<g fill="#20c25b" stroke="#128a3e" stroke-width="0.25"><circle cx="165.26" cy="244.48" r="1.75"/><circle cx="138.83" cy="245.67" r="1.75"/><circle cx="149.4" cy="245.19" r="1.75"/><circle cx="154.69" cy="244.96" r="1.75"/></g>
<text x="87.3" y="210.3" font-family="Liberation Sans" font-size="9.6" font-weight="bold" fill="#262626" text-anchor="start" textLength="41.5" lengthAdjust="spacingAndGlyphs" >Graphene</text>
<text x="126" y="257.4" font-family="Liberation Sans" font-size="8" font-weight="bold" fill="#262626" text-anchor="start" textLength="26.2" lengthAdjust="spacingAndGlyphs" >PMMA</text>
<text x="91.6" y="265.4" font-family="Liberation Sans" font-size="8.4" font-weight="bold" fill="#1f2430" text-anchor="start" textLength="30.6" lengthAdjust="spacingAndGlyphs" >HgCdTe</text>
<text x="70.3" y="282.3" font-family="Liberation Sans" font-size="9.4" font-weight="bold" fill="#262626" text-anchor="start" textLength="72.7" lengthAdjust="spacingAndGlyphs" >CdZnTe substrate</text>
<text x="11.5" y="17" font-family="Liberation Serif" font-size="14" font-weight="bold" fill="#000" text-anchor="start" >a</text>
<text x="179.5" y="17" font-family="Liberation Serif" font-size="14" font-weight="bold" fill="#000" text-anchor="start" >b</text>
<text x="363.3" y="11.9" font-family="Liberation Serif" font-size="14" font-weight="bold" fill="#000" text-anchor="start" >c</text>
<text x="11.8" y="182.3" font-family="Liberation Serif" font-size="14" font-weight="bold" fill="#000" text-anchor="start" >d</text>
<text x="182.4" y="177.8" font-family="Liberation Serif" font-size="15" font-weight="bold" fill="#000" text-anchor="start" >e</text>
<text x="367.7" y="177.6" font-family="Liberation Serif" font-size="14.6" font-weight="bold" fill="#000" text-anchor="start" >f</text>
<polyline points="208.5,122.34 208.86,122.16 209.21,122.5 209.57,122.86 209.92,122.61 210.28,122.92 210.63,122.3 210.99,121.54 211.34,122.63 211.7,122.7 212.05,122.05 212.41,122.13 212.76,122.27 213.12,122.89 213.47,122.35 213.83,121.93 214.18,123.13 214.54,122.61 214.89,123.46 215.25,123.1 215.6,123.43 215.96,122.48 216.32,123.09 216.67,122.18 217.03,122.24 217.38,122.45 217.74,123.83 218.09,122.66 218.45,122.37 218.8,122.27 219.16,123.24 219.51,122.62 219.87,122.92 220.22,122.82 220.58,121.71 220.93,122.81 221.29,122.36 221.64,121.81 222,122.68 222.35,122.4 222.71,122.27 223.07,122.3 223.42,123.06 223.78,122.29 224.13,121.53 224.49,123.25 224.84,121.83 225.2,122.27 225.55,122.72 225.91,121.15 226.26,121.89 226.62,123.05 226.97,122.29 227.33,122 227.68,122.45 228.04,121.93 228.39,122.38 228.75,121.94 229.1,121.49 229.46,122.74 229.81,122.22 230.17,122.61 230.53,122.26 230.88,123.04 231.24,122.68 231.59,122.45 231.95,121.81 232.3,121.66 232.66,123.12 233.01,122.81 233.37,121.95 233.72,123.52 234.08,122.61 234.43,122.39 234.79,121.59 235.14,121.93 235.5,122.53 235.85,122.56 236.21,122.49 236.56,121.44 236.92,122.59 237.28,122.52 237.63,122.13 237.99,122.41 238.34,122.45 238.7,123 239.05,122.34 239.41,122.6 239.76,121.65 240.12,121.95 240.47,122.35 240.83,121.94 241.18,122.54 241.54,121.71 241.89,122.34 242.25,121.99 242.6,123.1 242.96,122.13 243.31,123.34 243.67,123.54 244.02,122.52 244.38,122.87 244.74,122.24 245.09,121.01 245.45,122.83 245.8,122.71 246.16,122.22 246.51,122.05 246.87,122.44 247.22,122.46 247.58,121.92 247.93,122.03 248.29,122.95 248.64,122.38 249,122.32 249.35,122.96 249.71,122.18 250.06,122.84 250.42,121.76 250.77,122.22 251.13,122.28 251.49,122.69 251.84,122.41 252.2,123.52 252.55,123.01 252.91,122.12 253.26,123.6 253.62,121.84 253.97,123.37 254.33,121.89 254.68,122.84 255.04,121.88 255.39,122.26 255.75,123.25 256.1,121.6 256.46,121.48 256.81,122.38 257.17,122.5 257.52,122.43 257.88,122.91 258.23,121.69 258.59,122.66 258.95,122.37 259.3,122.81 259.66,122.71 260.01,123.09 260.37,121.59 260.72,122.43 261.08,121.77 261.43,122.33 261.79,122.75 262.14,122.53 262.5,122.67 262.85,122.33 263.21,122.56 263.56,122.51 263.92,123.15 264.27,122.81 264.63,121.36 264.98,122.73 265.34,122.96 265.7,122.14 266.05,121.5 266.41,123.2 266.76,122.46 267.12,122.71 267.47,123.38 267.83,121.9" fill="none" stroke="#f41c24" stroke-width="2.1" stroke-linejoin="round" />
<polyline points="280.44,54.29 280.79,54.24 281.15,54.73 281.5,54.01 281.86,54.6 282.21,54.36 282.57,54.94 282.92,55 283.28,53.49 283.64,54.58 283.99,54.11 284.35,54.3 284.7,54.54 285.06,54.58 285.41,53.91 285.77,54.46 286.12,54.37 286.48,54.27 286.83,53.58 287.19,53.88 287.54,54.05 287.9,54.61 288.25,55.1 288.61,53.72 288.96,53.71 289.32,54.36 289.67,53.96 290.03,53.82 290.39,53.79 290.74,53.73 291.1,54.55 291.45,53.38 291.81,55.02 292.16,53.77 292.52,53.99 292.87,53.76 293.23,53.17 293.58,53.4 293.94,54.96 294.29,55.28 294.65,53.8 295,54.88 295.36,54.29 295.71,53.78 296.07,55.25 296.42,55.53 296.78,54.13 297.13,54.25 297.49,54.43 297.85,54.26 298.2,54.79 298.56,55.18 298.91,54.38 299.27,54.86 299.62,55.25 299.98,53.98 300.33,54.32 300.69,54.04 301.04,54.87 301.4,54.67 301.75,54.87 302.11,54.8 302.46,54.16 302.82,54.74 303.17,54.07 303.53,54.08 303.88,53.08 304.24,55.1 304.6,53.75 304.95,54.33 305.31,54.29 305.66,55.14 306.02,54.55 306.37,53.84 306.73,54.33 307.08,54.23 307.44,54.45 307.79,53.6 308.15,54.29 308.5,55.58 308.86,54.69 309.21,55.45 309.57,56.2 309.92,54.59 310.28,53.49 310.63,54.25 310.99,54.97 311.34,54.84 311.7,53.61 312.06,54.19 312.41,54.25 312.77,54.31 313.12,54.26 313.48,53.8 313.83,53.95 314.19,54.15 314.54,54.9 314.9,53.98 315.25,54.68 315.61,53.63 315.96,55.03 316.32,54.36 316.67,54.28 317.03,55.06 317.38,53.26 317.74,53.42 318.09,54.55 318.45,53.82 318.81,54.06 319.16,55.83 319.52,54.13 319.87,54.32 320.23,54.23 320.58,54.92 320.94,54.44 321.29,54.39 321.65,53.58 322,54.08 322.36,54.28 322.71,53.38 323.07,54.61 323.42,54.51 323.78,55.36 324.13,53.35 324.49,53.71 324.84,53.74 325.2,53.88 325.55,54.21 325.91,54.15 326.27,54.43 326.62,54.4 326.98,54.25 327.33,53.39 327.69,53.95 328.04,54.31 328.4,54.62 328.75,54.66 329.11,53.33 329.46,53.98 329.82,54.24 330.17,54.48 330.53,54.94 330.88,54.32 331.24,53.76 331.59,54.51 331.95,54.41 332.3,54.41 332.66,54.22 333.02,55.22 333.37,54.42 333.73,54.79 334.08,53.76 334.44,54.74 334.79,53.94 335.15,53.38 335.5,54.47 335.86,54.64 336.21,54.17 336.57,54.28 336.92,54.87 337.28,54.01 337.63,53.09 337.99,54.43 338.34,54.4 338.7,54.9 339.05,54.09 339.41,55.02 339.76,54.94 340.12,53.52 340.48,54.82 340.83,53.64 341.19,53.38 341.54,54.13 341.9,53.95 342.25,53.12 342.61,54.4 342.96,54.63 343.32,55.08 343.67,54.26 344.03,53.4 344.38,53.71 344.74,54.84 345.09,54.79 345.45,54.58 345.8,54.11 346.16,54.4 346.51,54.15 346.87,54.1 347.23,54.46 347.58,54.3 347.94,54.16 348.29,54.33 348.65,53.98 349,53.17 349.36,53.93 349.71,54.25 350.07,55.28 350.42,54.05" fill="none" stroke="#f41c24" stroke-width="2.1" stroke-linejoin="round" />
<polyline points="267.47,122.07 280.44,54.28" fill="none" stroke="#f41c24" stroke-width="1.3" stroke-linejoin="round" stroke-dasharray="3,2"/>
<circle cx="268.55" cy="116.42" r="1.1" fill="#f41c24"/>
<circle cx="269.63" cy="110.77" r="1.1" fill="#f41c24"/>
<circle cx="270.71" cy="105.12" r="1.1" fill="#f41c24"/>
<circle cx="271.79" cy="99.47" r="1.1" fill="#f41c24"/>
<circle cx="272.87" cy="93.82" r="1.1" fill="#f41c24"/>
<circle cx="273.95" cy="88.17" r="1.1" fill="#f41c24"/>
<circle cx="275.04" cy="82.52" r="1.1" fill="#f41c24"/>
<circle cx="276.12" cy="76.88" r="1.1" fill="#f41c24"/>
<circle cx="277.2" cy="71.23" r="1.1" fill="#f41c24"/>
<circle cx="278.28" cy="65.58" r="1.1" fill="#f41c24"/>
<circle cx="279.36" cy="59.93" r="1.1" fill="#f41c24"/>
<rect x="208.5" y="22" width="142.1" height="107.6" fill="none" stroke="#000" stroke-width="1.4"/>
<path d="M208.5,129.6v-3M226.26,129.6v-1.8M244.03,129.6v-3M261.79,129.6v-1.8M279.55,129.6v-3M297.31,129.6v-1.8M315.08,129.6v-3M332.84,129.6v-1.8M350.6,129.6v-3M208.5,129.6h3M208.5,102.7h1.8M208.5,75.8h3M208.5,48.9h1.8M208.5,22h3" stroke="#000" stroke-width="1" fill="none"/>
<text x="208.5" y="141.2" font-family="Liberation Sans" font-size="10.2" font-weight="normal" fill="#111" text-anchor="middle" >70</text>
<text x="244.03" y="141.2" font-family="Liberation Sans" font-size="10.2" font-weight="normal" fill="#111" text-anchor="middle" >80</text>
<text x="279.55" y="141.2" font-family="Liberation Sans" font-size="10.2" font-weight="normal" fill="#111" text-anchor="middle" >90</text>
<text x="315.08" y="141.2" font-family="Liberation Sans" font-size="10.2" font-weight="normal" fill="#111" text-anchor="middle" >100</text>
<text x="350.6" y="141.2" font-family="Liberation Sans" font-size="10.2" font-weight="normal" fill="#111" text-anchor="middle" >110</text>
<text x="206.7" y="133.2" font-family="Liberation Sans" font-size="10.2" font-weight="normal" fill="#111" text-anchor="end" >0</text>
<text x="206.7" y="79.4" font-family="Liberation Sans" font-size="10.2" font-weight="normal" fill="#111" text-anchor="end" >10</text>
<text x="206.7" y="25.6" font-family="Liberation Sans" font-size="10.2" font-weight="normal" fill="#111" text-anchor="end" >20</text>
<text x="280" y="153.2" font-family="Liberation Sans" font-size="10.2" font-weight="normal" fill="#111" text-anchor="middle" >Time [&#956;s]</text>
<text transform="translate(191,77.6) rotate(-90)" font-family="Liberation Sans" font-size="9.6" fill="#111" text-anchor="middle" textLength="31" lengthAdjust="spacingAndGlyphs">I<tspan font-size="6.5" dy="2.2">ph</tspan><tspan dy="-2.2"> [&#956;A]</tspan></text>
<polyline points="213.8,32.2 234,32.2" fill="none" stroke="#f41c24" stroke-width="1.2" stroke-linejoin="round" stroke-dasharray="3,2"/>
<circle cx="224.5" cy="32.2" r="1.5" fill="#f41c24"/>
<text x="240" y="35" font-family="Liberation Serif" font-size="8.2" font-weight="bold" fill="#000" text-anchor="start" >638 nm</text>
<text x="214.5" y="47.3" font-family="Liberation Sans" font-size="8.4" font-weight="normal" fill="#111" text-anchor="start" textLength="43.5" lengthAdjust="spacingAndGlyphs" >Rising time:</text>
<text x="214.5" y="58.6" font-family="Liberation Sans" font-size="8.4" font-weight="normal" fill="#111" text-anchor="start" textLength="44.5" lengthAdjust="spacingAndGlyphs" >Falling time:</text>
<text x="262.5" y="45" font-family="Liberation Serif" font-size="8.2" font-weight="bold" fill="#000" text-anchor="start" >3 &#956;s</text>
<text x="262.5" y="58.6" font-family="Liberation Serif" font-size="8.2" font-weight="bold" fill="#000" text-anchor="start" >3 &#956;s</text>
<rect x="288.5" y="66.5" width="57.2" height="47.5" fill="#fff" stroke="#222" stroke-width="0.9"/>
<polyline points="288.73,81.45 288.96,81.32 289.19,80.78 289.42,80.82 289.64,81.02 289.87,81.39 290.1,81.08 290.33,81.15 290.56,80.84 290.79,80.45 291.02,80.94 291.25,81.17 291.47,81.27 291.7,81 291.93,81.03 292.16,81.26 292.39,80.96 292.62,81.26 292.85,80.72 293.08,80.74 293.3,80.73 293.53,81.1 293.76,80.87 293.99,81.02 294.22,81.08 294.45,81.07 294.68,81.3 294.91,81.33 295.14,80.8 295.36,81.03 295.59,80.94 295.82,80.75 296.05,81.4 296.28,81.17 296.51,80.95 296.74,80.89 296.97,81.08 297.19,80.74 297.42,80.94 297.65,81.28 297.88,81.21 298.11,80.8 298.34,80.88 298.57,81.44 298.8,80.67 299.02,80.85 299.25,80.67 299.48,81.08 299.71,81.06 299.94,81.26 300.17,80.38 300.4,81.03 300.63,80.61 300.86,81.14 301.08,80.95 301.31,81.38 301.54,81.08 301.77,80.75 302,81.28 302.23,80.73 302.46,80.91 302.69,81.24 302.91,81.11 303.14,81.1 303.37,81 303.6,81.11 303.83,81.18 304.06,81.06 304.29,81.23 304.52,81.29 304.74,81 304.97,80.78 305.2,81.35 305.43,80.99 305.66,81.14 305.89,81.22 306.12,80.78 306.35,81.11 306.58,80.63 306.8,81.17 307.03,80.9 307.26,81.04 307.49,81.17 307.72,80.85 307.95,81.02 308.18,80.84 308.41,81 308.63,81.25 308.86,81.01 309.09,80.98 309.32,80.76 309.55,81.2 309.78,81 310.01,81.4 310.24,80.83 310.46,81.24 310.69,81.42 310.92,81 311.15,80.72 311.38,81.35 311.61,81.25 311.84,81.16 312.07,81.26 312.3,80.9 312.52,81.18 312.75,81.16 312.98,80.85 313.21,81.17 313.44,80.88 313.67,81.22 313.9,81.28 314.13,81.42 314.35,80.55 314.58,81.06 314.81,80.93 315.04,80.99 315.27,80.95 315.5,80.98" fill="none" stroke="#f41c24" stroke-width="1.4" stroke-linejoin="round" />
<polyline points="324.19,110.22 324.42,110.92 324.65,111.04 324.88,110.92 325.11,110.99 325.34,110.5 325.57,110.48 325.79,110.9 326.02,111.01 326.25,110.76 326.48,110.34 326.71,111.34 326.94,110.55 327.17,110.93 327.4,110.43 327.62,110.93 327.85,110.74 328.08,111.03 328.31,110.91 328.54,110.35 328.77,110.48 329,110.77 329.23,110.88 329.46,111.12 329.68,110.77 329.91,110.68 330.14,110.69 330.37,110.7 330.6,110.94 330.83,110.69 331.06,110.68 331.29,110.37 331.51,110.23 331.74,110.71 331.97,110.86 332.2,110.69 332.43,110.82 332.66,110.85 332.89,110.69 333.12,110.92 333.34,110.53 333.57,110.7 333.8,110.62 334.03,110.72 334.26,110.85 334.49,110.9 334.72,110.73 334.95,110.81 335.18,110.62 335.4,110.68 335.63,111 335.86,110.66 336.09,110.99 336.32,110.82 336.55,110.74 336.78,111.17 337.01,110.65 337.23,110.64 337.46,110.71 337.69,110.78 337.92,110.76 338.15,110.91 338.38,110.74 338.61,110.81 338.84,110.65 339.06,110.96 339.29,110.62 339.52,110.64 339.75,110.71 339.98,110.78 340.21,110.54 340.44,111.07 340.67,110.57 340.9,110.62 341.12,110.61 341.35,110.58 341.58,110.83 341.81,110.74 342.04,110.52 342.27,110.57 342.5,110.63 342.73,111.03 342.95,110.55 343.18,110.4 343.41,110.44 343.64,110.62 343.87,111.04 344.1,110.45 344.33,110.71 344.56,111.28 344.78,110.59 345.01,111.03 345.24,110.98 345.47,110.83" fill="none" stroke="#f41c24" stroke-width="1.4" stroke-linejoin="round" />
<polyline points="315.73,80.99 324.19,110.67" fill="none" stroke="#f41c24" stroke-width="1.2" stroke-linejoin="round" stroke-dasharray="2,1.4"/>
<circle cx="316.79" cy="84.7" r="0.8" fill="#f41c24"/>
<circle cx="317.84" cy="88.41" r="0.8" fill="#f41c24"/>
<circle cx="318.9" cy="92.12" r="0.8" fill="#f41c24"/>
<circle cx="319.96" cy="95.83" r="0.8" fill="#f41c24"/>
<circle cx="321.02" cy="99.54" r="0.8" fill="#f41c24"/>
<circle cx="322.08" cy="103.25" r="0.8" fill="#f41c24"/>
<circle cx="323.13" cy="106.96" r="0.8" fill="#f41c24"/>
<text x="287.7" y="68.5" font-family="Liberation Sans" font-size="5" font-weight="normal" fill="#333" text-anchor="end" >20</text>
<text x="287.7" y="92.25" font-family="Liberation Sans" font-size="5" font-weight="normal" fill="#333" text-anchor="end" >10</text>
<text x="287.7" y="116" font-family="Liberation Sans" font-size="5" font-weight="normal" fill="#333" text-anchor="end" >0</text>
<text x="288.5" y="119.8" font-family="Liberation Sans" font-size="5" font-weight="normal" fill="#333" text-anchor="middle" >575</text>
<text x="345.7" y="119.8" font-family="Liberation Sans" font-size="5" font-weight="normal" fill="#333" text-anchor="middle" >600</text>
<text x="317" y="123.2" font-family="Liberation Sans" font-size="7.6" font-weight="normal" fill="#222" text-anchor="middle" >Time [&#956;s]</text>
<text transform="translate(282,99) rotate(-90)" font-family="Liberation Sans" font-size="6.5" fill="#222" text-anchor="middle">I<tspan font-size="4.5" dy="1.5">ph</tspan><tspan dy="-1.5"> [&#956;A]</tspan></text>
<polyline points="394.44,126.61 394.72,127.67 394.99,127.25 395.27,126.3 395.55,126.4 395.83,127.5 396.11,127.58 396.38,128.24 396.66,127.88 396.94,127.15 397.22,127.17 397.49,127.36 397.77,126.78 398.05,127.93 398.33,127.46 398.61,126.96 398.88,127.05 399.16,126.74 399.44,127.17 399.72,127.63 399.99,127.19 400.27,128.08 400.55,128.49 400.83,127.05 401.11,127.46 401.38,127.23 401.66,128.53 401.94,127.66 402.22,127.82 402.5,127.99 402.77,128.89 403.05,127.64 403.33,126.85 403.61,127.18 403.88,127.82 404.16,127.44 404.44,126.94 404.72,129.21 405,127.51 405.27,127.08 405.55,126.99 405.83,126.33 406.11,126.69 406.38,127.23 406.66,127.23 406.94,126.92 407.22,127.78 407.5,127.45 407.77,126.84 408.05,126.16 408.33,127.53 408.61,127.46 408.88,127.3 409.16,126.56 409.44,127.45 409.72,126.48 410,128.05 410.27,127.55 410.55,127.56 410.83,126.92 411.11,126.75 411.38,128.4 411.66,128.02 411.94,127.21 412.22,127.85 412.5,128.41 412.77,126.76 413.05,127.11 413.33,127.11 413.61,127.74 413.88,126.76 414.16,127.58 414.44,126.72 414.72,128.02 415,127.98 415.27,127.3 415.55,127.88 415.83,126.99 416.11,127.26 416.39,128.03 416.66,127.38 416.94,127.66 417.22,126.84 417.5,127.84 417.77,127.71 418.05,126.64 418.33,125.98 418.61,126.14 418.89,127.39 419.16,127.29 419.44,126.44 419.72,127.51 420,128.06 420.27,127.35 420.55,127.14 420.83,127.96 421.11,128.49 421.39,128.36 421.66,127 421.94,127.92 422.22,127.52 422.5,127.29 422.77,127.03 423.05,127.65 423.33,127.11 423.61,128 423.89,127.66 424.16,128.09 424.44,126.7 424.72,127.45 425,127.91 425.27,127.66 425.55,127.57 425.83,126.98 426.11,128.46 426.39,128.1 426.66,127.67 426.94,125.79 427.22,126.81 427.5,127.5 427.77,126.97 428.05,126.1 428.33,127.58 428.61,127.67 428.89,126.64 429.16,127.11 429.44,126.99 429.72,127.76 430,126.18 430.28,126.32 430.55,127.06 430.83,126.99 431.11,128.74 431.39,127.02 431.66,127.55 431.94,127.15 432.22,126.99 432.5,127.65 432.78,128.52 433.05,127.19 433.33,127.91 433.61,127.64 433.89,127.82 434.16,127.65 434.44,128.92 434.72,126.64 435,127.26 435.28,126.71 435.55,126.15 435.83,127.41 436.11,128.59 436.39,128.01 436.66,128.21 436.94,127.75 437.22,127.38 437.5,128.72 437.78,127.21 438.05,128.41 438.33,127.24 438.61,127.5 438.89,127.63 439.16,127.48 439.44,127.78 439.72,127.82 440,128.52 440.28,127.45 440.55,126.23 440.83,126.15 441.11,126.57 441.39,126.97 441.66,127.87 441.94,126.5 442.22,127.46 442.5,127.47 442.78,127.62 443.05,127.37 443.33,127.71 443.61,127.48 443.89,128.13 444.17,127.67 444.44,125.95 444.72,127.47 445,127.58 445.28,127.08 445.55,126.97 445.83,128.15 446.11,127.56 446.39,126.83 446.67,127.25 446.94,127.35 447.22,126.42 447.5,127.87 447.78,127.37 448.05,127.76 448.33,126.46 448.61,128.69 448.89,127.86" fill="none" stroke="#8a8a8a" stroke-width="2.6" stroke-linejoin="round" />
<g fill="#a8a8a8" stroke="#888" stroke-width="0.6"><circle cx="394.44" cy="126.61" r="1"/><circle cx="395.27" cy="126.3" r="1"/><circle cx="396.11" cy="127.58" r="1"/><circle cx="396.94" cy="127.15" r="1"/><circle cx="397.77" cy="126.78" r="1"/><circle cx="398.61" cy="126.96" r="1"/><circle cx="399.44" cy="127.17" r="1"/><circle cx="400.27" cy="128.08" r="1"/><circle cx="401.11" cy="127.46" r="1"/><circle cx="401.94" cy="127.66" r="1"/><circle cx="402.77" cy="128.89" r="1"/><circle cx="403.61" cy="127.18" r="1"/><circle cx="404.44" cy="126.94" r="1"/><circle cx="405.27" cy="127.08" r="1"/><circle cx="406.11" cy="126.69" r="1"/><circle cx="406.94" cy="126.92" r="1"/><circle cx="407.77" cy="126.84" r="1"/><circle cx="408.61" cy="127.46" r="1"/><circle cx="409.44" cy="127.45" r="1"/><circle cx="410.27" cy="127.55" r="1"/><circle cx="411.11" cy="126.75" r="1"/><circle cx="411.94" cy="127.21" r="1"/><circle cx="412.77" cy="126.76" r="1"/><circle cx="413.61" cy="127.74" r="1"/><circle cx="414.44" cy="126.72" r="1"/><circle cx="415.27" cy="127.3" r="1"/><circle cx="416.11" cy="127.26" r="1"/><circle cx="416.94" cy="127.66" r="1"/><circle cx="417.77" cy="127.71" r="1"/><circle cx="418.61" cy="126.14" r="1"/><circle cx="419.44" cy="126.44" r="1"/><circle cx="420.27" cy="127.35" r="1"/><circle cx="421.11" cy="128.49" r="1"/><circle cx="421.94" cy="127.92" r="1"/><circle cx="422.77" cy="127.03" r="1"/><circle cx="423.61" cy="128" r="1"/><circle cx="424.44" cy="126.7" r="1"/><circle cx="425.27" cy="127.66" r="1"/><circle cx="426.11" cy="128.46" r="1"/><circle cx="426.94" cy="125.79" r="1"/><circle cx="427.77" cy="126.97" r="1"/><circle cx="428.61" cy="127.67" r="1"/><circle cx="429.44" cy="126.99" r="1"/><circle cx="430.28" cy="126.32" r="1"/><circle cx="431.11" cy="128.74" r="1"/><circle cx="431.94" cy="127.15" r="1"/><circle cx="432.78" cy="128.52" r="1"/><circle cx="433.61" cy="127.64" r="1"/><circle cx="434.44" cy="128.92" r="1"/><circle cx="435.28" cy="126.71" r="1"/><circle cx="436.11" cy="128.59" r="1"/><circle cx="436.94" cy="127.75" r="1"/><circle cx="437.78" cy="127.21" r="1"/><circle cx="438.61" cy="127.5" r="1"/><circle cx="439.44" cy="127.78" r="1"/><circle cx="440.28" cy="127.45" r="1"/><circle cx="441.11" cy="126.57" r="1"/><circle cx="441.94" cy="126.5" r="1"/><circle cx="442.78" cy="127.62" r="1"/><circle cx="443.61" cy="127.48" r="1"/><circle cx="444.44" cy="125.95" r="1"/><circle cx="445.28" cy="127.08" r="1"/><circle cx="446.11" cy="127.56" r="1"/><circle cx="446.94" cy="127.35" r="1"/><circle cx="447.78" cy="127.37" r="1"/><circle cx="448.61" cy="128.69" r="1"/></g>
<polyline points="449.19,84.23 449.3,83.09 449.42,81.99 449.53,80.93 449.64,79.9 449.75,78.9 449.86,77.94 449.97,77 450.08,76.1 450.19,75.23 450.3,74.38 450.42,73.57 450.53,72.78 450.64,72.02 450.75,71.28 450.86,70.56 450.97,69.87 451.08,69.2 451.19,68.56 451.25,68.24 451.53,66.74 451.8,65.36 452.08,64.09 452.36,62.93 452.64,61.85 452.92,60.86 453.19,59.95 453.47,59.12 453.75,58.35 454.03,57.64 454.3,56.99 454.58,56.39 454.86,55.84 455.14,55.33 455.42,54.86 455.69,54.43 455.97,54.04 456.25,53.67 456.53,53.34 456.81,53.03 457.08,52.75 457.36,52.49 457.64,52.25 457.92,52.03 458.19,51.82 458.47,51.64 458.75,51.47 459.03,51.31 459.31,51.16 459.58,51.03 459.86,50.91 460.14,50.79 460.42,50.69 460.69,50.59 460.97,50.5 461.25,50.42 461.53,50.35 461.81,50.28 462.08,50.22 462.36,50.16 462.64,50.1 462.92,50.06 463.19,50.01 463.47,49.97 463.75,49.93 464.03,49.89 464.31,49.86 464.58,49.83 464.86,49.81 465.14,49.78 465.42,49.76 465.69,49.74 465.97,49.72 466.25,49.7 466.53,49.68 466.81,49.67 467.08,49.65 467.36,49.64 467.64,49.63 467.92,49.62 468.19,49.61 468.47,49.6 468.75,49.59 469.03,49.58 469.31,49.57 469.58,49.57 469.86,49.56 470.14,49.55 470.42,49.55 470.7,49.54 470.97,49.54 471.25,49.54 471.53,49.53 471.81,49.53 472.08,49.53 472.36,49.52 472.64,49.52 472.92,49.52 473.2,49.51 473.47,49.51 473.75,49.51 474.03,49.51 474.31,49.51 474.58,49.51 474.86,49.5 475.14,49.5 475.42,49.5 475.7,49.5 475.97,49.5 476.25,49.5 476.53,49.5 476.81,49.5 477.08,49.5 477.36,49.5 477.64,49.5 477.92,49.5 478.2,49.49 478.47,49.49 478.75,49.49 479.03,49.49 479.31,49.49 479.58,49.49 479.86,49.49 480.14,49.49 480.42,49.49 480.7,49.49 480.97,49.49 481.25,49.49 481.53,49.49 481.81,49.49 482.08,49.49 482.36,49.49 482.64,49.49 482.92,49.49 483.2,49.49 483.47,49.49 483.75,49.49 484.03,49.49 484.31,49.49 484.59,49.49 484.86,49.49 485.14,49.49 485.42,49.49 485.7,49.49 485.97,49.49 486.25,49.49 486.53,49.49 486.81,49.49 487.09,49.49 487.36,49.49 487.64,49.49 487.92,49.49 488.2,49.49 488.47,49.49 488.75,49.49 489.03,49.49 489.31,49.49 489.59,49.49 489.86,49.49 490.14,49.49 490.42,49.49 490.7,49.49 490.97,49.49 491.25,49.49 491.53,49.49 491.81,49.49 492.09,49.49 492.36,49.49 492.64,49.49 492.92,49.49 493.2,49.49 493.47,49.49 493.75,49.49 494.03,49.49 494.31,49.49 494.59,49.49 494.86,49.49 495.14,49.49 495.42,49.49 495.7,49.49 495.97,49.49 496.25,49.49 496.53,49.49 496.81,49.49 497.09,49.49 497.36,49.49 497.64,49.49 497.92,49.49 498.2,49.49 498.48,49.49 498.75,49.49 499.03,49.49 499.31,49.49 499.59,49.49 499.86,49.49 500.14,49.49 500.42,49.49 500.7,49.49 500.98,49.49 501.25,49.49 501.53,49.49 501.81,49.49 502.09,49.49 502.36,49.49 502.64,49.49 502.92,49.49 503.2,49.49 503.48,49.49 503.75,49.49 504.03,49.49 504.31,49.49 504.59,49.49 504.86,49.49 505.14,49.49 505.42,49.49 505.7,49.49 505.98,49.49 506.25,49.49 506.53,49.49 506.81,49.49 507.09,49.49 507.36,49.49 507.64,49.49 507.92,49.49 508.2,49.49 508.48,49.49 508.75,49.49 509.03,49.49 509.31,49.49 509.59,49.49 509.86,49.49 510.14,49.49 510.42,49.49 510.7,49.49 510.98,49.49 511.25,49.49 511.53,49.49 511.81,49.49 512.09,49.49 512.37,49.49 512.64,49.49 512.92,49.49 513.2,49.49 513.48,49.49 513.75,49.49 514.03,49.49 514.31,49.49 514.59,49.49 514.87,49.49 515.14,49.49 515.42,49.49 515.7,49.49 515.98,49.49 516.25,49.49 516.53,49.49 516.81,49.49 517.09,49.49 517.37,49.49 517.64,49.49 517.92,49.49 518.2,49.49 518.48,49.49 518.75,49.49 519.03,49.49 519.31,49.49 519.59,49.49 519.87,49.49 520.14,49.49 520.42,49.49 520.7,49.49 520.98,49.49 521.25,49.49 521.53,49.49 521.81,49.49 522.09,49.49 522.37,49.49 522.64,49.49 522.92,49.49 523.2,49.49 523.48,49.49 523.75,49.49 524.03,49.49 524.31,49.49 524.59,49.49 524.87,49.49 525.14,49.49 525.42,49.49 525.7,49.49 525.98,49.49 526.26,49.49 526.53,49.49 526.81,49.49 527.09,49.49 527.37,49.49 527.64,49.49 527.92,49.49 528.2,49.49 528.48,49.49 528.76,49.49 529.03,49.49 529.31,49.49 529.59,49.49 529.87,49.49 530.14,49.49 530.42,49.49 530.7,49.49 530.98,49.49 531.26,49.49 531.53,49.49 531.81,49.49 532.09,49.49 532.37,49.49 532.64,49.49 532.92,49.49" fill="none" stroke="#8e8e8e" stroke-width="4.2" stroke-linejoin="round" />
<g fill="#b4b4b4" stroke="#7e7e7e" stroke-width="0.6"><circle cx="449.19" cy="85.03" r="1.5"/><circle cx="449.42" cy="81.08" r="1.5"/><circle cx="449.64" cy="82.27" r="1.5"/><circle cx="449.86" cy="78.38" r="1.5"/><circle cx="450.08" cy="75.29" r="1.5"/><circle cx="450.3" cy="77.52" r="1.5"/><circle cx="450.53" cy="75.04" r="1.5"/><circle cx="450.75" cy="70.72" r="1.5"/><circle cx="450.97" cy="67.48" r="1.5"/><circle cx="451.19" cy="70.87" r="1.5"/><circle cx="451.53" cy="68.13" r="1.5"/><circle cx="452.08" cy="63.44" r="1.5"/><circle cx="452.64" cy="64.84" r="1.5"/><circle cx="453.19" cy="60.12" r="1.5"/><circle cx="453.75" cy="58.19" r="1.5"/><circle cx="454.3" cy="56.93" r="1.5"/><circle cx="454.86" cy="55.19" r="1.5"/><circle cx="455.42" cy="54.24" r="1.5"/><circle cx="455.97" cy="54.29" r="1.5"/><circle cx="456.53" cy="53.03" r="1.5"/><circle cx="457.08" cy="50.28" r="1.5"/><circle cx="457.64" cy="54.08" r="1.5"/><circle cx="458.19" cy="52.25" r="1.5"/><circle cx="458.75" cy="52.55" r="1.5"/><circle cx="459.31" cy="52.13" r="1.5"/><circle cx="459.86" cy="52" r="1.5"/><circle cx="460.42" cy="49.21" r="1.5"/><circle cx="460.97" cy="52.02" r="1.5"/><circle cx="461.53" cy="51.62" r="1.5"/><circle cx="462.08" cy="51.95" r="1.5"/><circle cx="462.64" cy="50.15" r="1.5"/><circle cx="463.19" cy="51.45" r="1.5"/><circle cx="463.75" cy="53.1" r="1.5"/><circle cx="464.31" cy="50.49" r="1.5"/><circle cx="464.86" cy="50.09" r="1.5"/><circle cx="465.42" cy="50.46" r="1.5"/><circle cx="465.97" cy="48.88" r="1.5"/><circle cx="466.53" cy="51.02" r="1.5"/><circle cx="467.08" cy="50.52" r="1.5"/><circle cx="467.64" cy="50.84" r="1.5"/><circle cx="468.19" cy="49.27" r="1.5"/><circle cx="468.75" cy="50.31" r="1.5"/><circle cx="469.31" cy="50.48" r="1.5"/><circle cx="469.86" cy="45.81" r="1.5"/><circle cx="470.42" cy="50.31" r="1.5"/><circle cx="470.97" cy="49.05" r="1.5"/><circle cx="471.53" cy="50.27" r="1.5"/><circle cx="472.08" cy="49.95" r="1.5"/><circle cx="472.64" cy="49.35" r="1.5"/><circle cx="473.2" cy="49.04" r="1.5"/><circle cx="473.75" cy="51.17" r="1.5"/><circle cx="474.31" cy="46.34" r="1.5"/><circle cx="474.86" cy="49.12" r="1.5"/><circle cx="475.42" cy="46.81" r="1.5"/><circle cx="475.97" cy="49.67" r="1.5"/><circle cx="476.53" cy="48.38" r="1.5"/><circle cx="477.08" cy="49.03" r="1.5"/><circle cx="477.64" cy="49.31" r="1.5"/><circle cx="478.2" cy="51.22" r="1.5"/><circle cx="478.75" cy="48.17" r="1.5"/><circle cx="479.31" cy="49.86" r="1.5"/><circle cx="479.86" cy="51.11" r="1.5"/><circle cx="480.42" cy="51.09" r="1.5"/><circle cx="480.97" cy="46" r="1.5"/><circle cx="481.53" cy="49.82" r="1.5"/><circle cx="482.08" cy="49.31" r="1.5"/><circle cx="482.64" cy="47.15" r="1.5"/><circle cx="483.2" cy="47.9" r="1.5"/><circle cx="483.75" cy="47.36" r="1.5"/><circle cx="484.31" cy="50.51" r="1.5"/><circle cx="484.86" cy="48.38" r="1.5"/><circle cx="485.42" cy="48.75" r="1.5"/><circle cx="485.97" cy="52.71" r="1.5"/><circle cx="486.53" cy="48.43" r="1.5"/><circle cx="487.09" cy="49.39" r="1.5"/><circle cx="487.64" cy="50.18" r="1.5"/><circle cx="488.2" cy="49.77" r="1.5"/><circle cx="488.75" cy="51.58" r="1.5"/><circle cx="489.31" cy="50.45" r="1.5"/><circle cx="489.86" cy="47.59" r="1.5"/><circle cx="490.42" cy="51.45" r="1.5"/><circle cx="490.97" cy="48.08" r="1.5"/><circle cx="491.53" cy="50.13" r="1.5"/><circle cx="492.09" cy="48.41" r="1.5"/><circle cx="492.64" cy="48.95" r="1.5"/><circle cx="493.2" cy="50.3" r="1.5"/><circle cx="493.75" cy="49.39" r="1.5"/><circle cx="494.31" cy="50.34" r="1.5"/><circle cx="494.86" cy="47.81" r="1.5"/><circle cx="495.42" cy="48.15" r="1.5"/><circle cx="495.97" cy="48.6" r="1.5"/><circle cx="496.53" cy="50.73" r="1.5"/><circle cx="497.09" cy="49.97" r="1.5"/><circle cx="497.64" cy="46.92" r="1.5"/><circle cx="498.2" cy="50.95" r="1.5"/><circle cx="498.75" cy="48.3" r="1.5"/><circle cx="499.31" cy="49.6" r="1.5"/><circle cx="499.86" cy="48.5" r="1.5"/><circle cx="500.42" cy="47.94" r="1.5"/><circle cx="500.98" cy="48.53" r="1.5"/><circle cx="501.53" cy="48.04" r="1.5"/><circle cx="502.09" cy="50.83" r="1.5"/><circle cx="502.64" cy="50.86" r="1.5"/><circle cx="503.2" cy="51.85" r="1.5"/><circle cx="503.75" cy="48.74" r="1.5"/><circle cx="504.31" cy="49.7" r="1.5"/><circle cx="504.86" cy="49.46" r="1.5"/><circle cx="505.42" cy="48.62" r="1.5"/><circle cx="505.98" cy="50" r="1.5"/><circle cx="506.53" cy="49.73" r="1.5"/><circle cx="507.09" cy="50.85" r="1.5"/><circle cx="507.64" cy="50.09" r="1.5"/><circle cx="508.2" cy="50.73" r="1.5"/><circle cx="508.75" cy="48.9" r="1.5"/><circle cx="509.31" cy="46.44" r="1.5"/><circle cx="509.86" cy="46.81" r="1.5"/><circle cx="510.42" cy="50.49" r="1.5"/><circle cx="510.98" cy="48.83" r="1.5"/><circle cx="511.53" cy="49.41" r="1.5"/><circle cx="512.09" cy="52.22" r="1.5"/><circle cx="512.64" cy="52.84" r="1.5"/><circle cx="513.2" cy="50.58" r="1.5"/><circle cx="513.75" cy="49.82" r="1.5"/><circle cx="514.31" cy="51.65" r="1.5"/><circle cx="514.87" cy="51.1" r="1.5"/><circle cx="515.42" cy="50.95" r="1.5"/><circle cx="515.98" cy="51.08" r="1.5"/><circle cx="516.53" cy="51.56" r="1.5"/><circle cx="517.09" cy="49.97" r="1.5"/><circle cx="517.64" cy="48.63" r="1.5"/><circle cx="518.2" cy="49.2" r="1.5"/><circle cx="518.75" cy="50.96" r="1.5"/><circle cx="519.31" cy="49.86" r="1.5"/><circle cx="519.87" cy="49.55" r="1.5"/><circle cx="520.42" cy="52.48" r="1.5"/><circle cx="520.98" cy="48.16" r="1.5"/><circle cx="521.53" cy="50.68" r="1.5"/><circle cx="522.09" cy="51.57" r="1.5"/><circle cx="522.64" cy="45.81" r="1.5"/><circle cx="523.2" cy="51.16" r="1.5"/><circle cx="523.75" cy="50.1" r="1.5"/><circle cx="524.31" cy="50.73" r="1.5"/><circle cx="524.87" cy="48.15" r="1.5"/><circle cx="525.42" cy="50.05" r="1.5"/><circle cx="525.98" cy="51.83" r="1.5"/><circle cx="526.53" cy="52.86" r="1.5"/><circle cx="527.09" cy="50.44" r="1.5"/><circle cx="527.64" cy="46.67" r="1.5"/><circle cx="528.2" cy="51.23" r="1.5"/><circle cx="528.76" cy="47.74" r="1.5"/><circle cx="529.31" cy="50.93" r="1.5"/><circle cx="529.87" cy="51.91" r="1.5"/><circle cx="530.42" cy="53.12" r="1.5"/><circle cx="530.98" cy="49.9" r="1.5"/><circle cx="531.53" cy="49.24" r="1.5"/><circle cx="532.09" cy="49.81" r="1.5"/><circle cx="532.64" cy="52.72" r="1.5"/></g>
<polyline points="449.17,127.11 449.17,84.52" fill="none" stroke="#8c8c8c" stroke-width="1.1" stroke-linejoin="round" stroke-dasharray="2.2,1.6"/>
<path d="M447.67,120.64h3" stroke="#8c8c8c" stroke-width="0.9"/>
<path d="M447.67,111.47h3" stroke="#8c8c8c" stroke-width="0.9"/>
<path d="M447.67,102.31h3" stroke="#8c8c8c" stroke-width="0.9"/>
<path d="M447.67,93.15h3" stroke="#8c8c8c" stroke-width="0.9"/>
<rect x="394.3" y="22" width="138.9" height="107.8" fill="none" stroke="#000" stroke-width="1.4"/>
<path d="M394.3,129.8v-3M408.19,129.8v-1.8M422.08,129.8v-3M435.97,129.8v-1.8M449.86,129.8v-3M463.75,129.8v-1.8M477.64,129.8v-3M491.53,129.8v-1.8M505.42,129.8v-3M519.31,129.8v-1.8M533.2,129.8v-3M394.3,129.8h3M394.3,119.02h1.8M394.3,108.24h3M394.3,97.46h1.8M394.3,86.68h3M394.3,75.9h1.8M394.3,65.12h3M394.3,54.34h1.8M394.3,43.56h3M394.3,32.78h1.8M394.3,22h3" stroke="#000" stroke-width="1" fill="none"/>
<text x="394.3" y="141.2" font-family="Liberation Sans" font-size="10.2" font-weight="normal" fill="#111" text-anchor="middle" >400</text>
<text x="422.08" y="141.2" font-family="Liberation Sans" font-size="10.2" font-weight="normal" fill="#111" text-anchor="middle" >500</text>
<text x="449.86" y="141.2" font-family="Liberation Sans" font-size="10.2" font-weight="normal" fill="#111" text-anchor="middle" >600</text>
<text x="477.64" y="141.2" font-family="Liberation Sans" font-size="10.2" font-weight="normal" fill="#111" text-anchor="middle" >700</text>
<text x="505.42" y="141.2" font-family="Liberation Sans" font-size="10.2" font-weight="normal" fill="#111" text-anchor="middle" >800</text>
<text x="533.2" y="141.2" font-family="Liberation Sans" font-size="10.2" font-weight="normal" fill="#111" text-anchor="middle" >900</text>
<text x="392.5" y="133.4" font-family="Liberation Sans" font-size="10.2" font-weight="normal" fill="#111" text-anchor="end" >0</text>
<text x="392.5" y="111.84" font-family="Liberation Sans" font-size="10.2" font-weight="normal" fill="#111" text-anchor="end" >2</text>
<text x="392.5" y="90.28" font-family="Liberation Sans" font-size="10.2" font-weight="normal" fill="#111" text-anchor="end" >4</text>
<text x="392.5" y="68.72" font-family="Liberation Sans" font-size="10.2" font-weight="normal" fill="#111" text-anchor="end" >6</text>
<text x="392.5" y="47.16" font-family="Liberation Sans" font-size="10.2" font-weight="normal" fill="#111" text-anchor="end" >8</text>
<text x="392.5" y="25.6" font-family="Liberation Sans" font-size="10.2" font-weight="normal" fill="#111" text-anchor="end" >10</text>
<text x="464" y="153.2" font-family="Liberation Sans" font-size="10.2" font-weight="normal" fill="#111" text-anchor="middle" >Time [&#956;s]</text>
<text transform="translate(375,80) rotate(-90)" font-family="Liberation Sans" font-size="9.6" fill="#111" text-anchor="middle" textLength="30" lengthAdjust="spacingAndGlyphs">I<tspan font-size="6.5" dy="2.2">ph</tspan><tspan dy="-2.2"> [&#956;A]</tspan></text>
<polyline points="396,28.6 412.4,28.6" fill="none" stroke="#8c8c8c" stroke-width="1" stroke-linejoin="round" stroke-dasharray="2.5,1.8"/>
<path d="M402.5,28.6h3M404,27.1v3" stroke="#8c8c8c" stroke-width="0.9"/>
<text x="421.3" y="31.3" font-family="Liberation Serif" font-size="8" font-weight="bold" fill="#000" text-anchor="start" textLength="28.8" lengthAdjust="spacingAndGlyphs" >1550 nm</text>
<text x="396" y="42" font-family="Liberation Sans" font-size="7.6" font-weight="normal" fill="#111" text-anchor="start" textLength="39.5" lengthAdjust="spacingAndGlyphs" >Rising time :</text>
<text x="396" y="52.6" font-family="Liberation Sans" font-size="7.6" font-weight="normal" fill="#111" text-anchor="start" textLength="40" lengthAdjust="spacingAndGlyphs" >Falling time :</text>
<text x="438.5" y="41.3" font-family="Liberation Serif" font-size="8" font-weight="bold" fill="#000" text-anchor="start" textLength="17.8" lengthAdjust="spacingAndGlyphs" >30 &#956;s</text>
<text x="440" y="52.2" font-family="Liberation Serif" font-size="8" font-weight="bold" fill="#000" text-anchor="start" textLength="14" lengthAdjust="spacingAndGlyphs" >5 &#956;s</text>
<rect x="464.7" y="63" width="61.5" height="51.5" fill="#fff" stroke="#222" stroke-width="0.9"/>
<polyline points="465.01,76.5 465.31,76.06 465.62,76.02 465.93,76.6 466.24,76.46 466.55,75.72 466.85,75.95 467.16,76.48 467.47,75.08 467.77,74.94 468.08,76.89 468.39,75.98 468.7,74.84 469,75.73 469.31,76.02 469.62,76.24 469.93,76.41 470.24,76.24 470.54,76.42 470.85,75.75 471.16,76.34 471.46,76.36 471.77,76.75 472.08,76.16 472.39,76.59 472.69,76.23 473,75.6 473.31,75.94 473.62,75.87 473.93,75.95 474.23,76.1 474.54,76.2 474.85,76.29 475.15,75.74 475.46,76.69 475.77,75.44 476.08,76.11 476.38,76.52 476.69,76.38 477,76.48 477.31,76.05 477.62,76.5 477.92,75.54 478.23,76.54 478.54,77.3 478.85,76.51 479.15,77.17 479.46,76.15 479.77,75.59 480.07,75.8 480.38,76.82 480.69,76.53 481,75.22 481.31,75.97 481.61,76.13 481.92,75.59 482.23,74.87 482.54,75.46 482.84,76.06 483.15,75.95 483.46,75.81 483.76,76.45 484.07,76.68 484.38,76.11 484.69,76.62 485,76.16 485.3,76.08 485.61,74.93 485.92,76.57 486.23,76.2 486.53,76.22 486.84,75.91 487.15,75.59 487.46,76.39 487.76,76.56 488.07,76.98 488.38,76.61 488.69,75.86 488.99,76.11 489.3,76.66 489.61,76.32 489.92,76.12 490.22,75.87 490.53,76.44 490.84,76.26 491.14,77.07 491.45,76.73 491.76,75.3 492.07,77.26 492.38,76.31 492.68,76.02 492.99,76.33 493.3,76.55 493.61,76.16" fill="none" stroke="#8c8c8c" stroke-width="2.4" stroke-linejoin="round" />
<g fill="#b4b4b4" stroke="#7e7e7e" stroke-width="0.6"><circle cx="465.01" cy="76.5" r="1"/><circle cx="465.62" cy="76.02" r="1"/><circle cx="466.24" cy="76.46" r="1"/><circle cx="466.85" cy="75.95" r="1"/><circle cx="467.47" cy="75.08" r="1"/><circle cx="468.08" cy="76.89" r="1"/><circle cx="468.7" cy="74.84" r="1"/><circle cx="469.31" cy="76.02" r="1"/><circle cx="469.93" cy="76.41" r="1"/><circle cx="470.54" cy="76.42" r="1"/><circle cx="471.16" cy="76.34" r="1"/><circle cx="471.77" cy="76.75" r="1"/><circle cx="472.39" cy="76.59" r="1"/><circle cx="473" cy="75.6" r="1"/><circle cx="473.62" cy="75.87" r="1"/><circle cx="474.23" cy="76.1" r="1"/><circle cx="474.85" cy="76.29" r="1"/><circle cx="475.46" cy="76.69" r="1"/><circle cx="476.08" cy="76.11" r="1"/><circle cx="476.69" cy="76.38" r="1"/><circle cx="477.31" cy="76.05" r="1"/><circle cx="477.92" cy="75.54" r="1"/><circle cx="478.54" cy="77.3" r="1"/><circle cx="479.15" cy="77.17" r="1"/><circle cx="479.77" cy="75.59" r="1"/><circle cx="480.38" cy="76.82" r="1"/><circle cx="481" cy="75.22" r="1"/><circle cx="481.61" cy="76.13" r="1"/><circle cx="482.23" cy="74.87" r="1"/><circle cx="482.84" cy="76.06" r="1"/><circle cx="483.46" cy="75.81" r="1"/><circle cx="484.07" cy="76.68" r="1"/><circle cx="484.69" cy="76.62" r="1"/><circle cx="485.3" cy="76.08" r="1"/><circle cx="485.92" cy="76.57" r="1"/><circle cx="486.53" cy="76.22" r="1"/><circle cx="487.15" cy="75.59" r="1"/><circle cx="487.76" cy="76.56" r="1"/><circle cx="488.38" cy="76.61" r="1"/><circle cx="488.99" cy="76.11" r="1"/><circle cx="489.61" cy="76.32" r="1"/><circle cx="490.22" cy="75.87" r="1"/><circle cx="490.84" cy="76.26" r="1"/><circle cx="491.45" cy="76.73" r="1"/><circle cx="492.07" cy="77.26" r="1"/><circle cx="492.68" cy="76.02" r="1"/><circle cx="493.3" cy="76.55" r="1"/></g>
<polyline points="495.14,112.44 495.45,112.47 495.76,113.02 496.06,112.49 496.37,112.7 496.68,112.61 496.99,112.37 497.3,112.24 497.6,112.16 497.91,112.59 498.22,112.15 498.53,112.08 498.83,112.09 499.14,112.01 499.45,112.49 499.75,112.49 500.06,112.19 500.37,112.86 500.68,112.38 500.99,112.6 501.29,112.55 501.6,112.98 501.91,112.72 502.22,112.45 502.52,112.17 502.83,112.13 503.14,112.46 503.45,112.5 503.75,112.7 504.06,112.32 504.37,112.52 504.68,112.25 504.98,111.9 505.29,112.45 505.6,112.9 505.91,112.71 506.21,112.89 506.52,112.81 506.83,112.04 507.14,112.37 507.44,112.91 507.75,112.24 508.06,112.05 508.37,112.55 508.67,112.65 508.98,112.54 509.29,112.35 509.6,112.24 509.9,112.07 510.21,112.07 510.52,112.07 510.83,112.02 511.13,112.24 511.44,112.91 511.75,112.48 512.06,112.34 512.36,112.56 512.67,112.16 512.98,112.55 513.29,112.73 513.59,111.99 513.9,112.23 514.21,112.37 514.51,112.15 514.82,112.11 515.13,112.33 515.44,113.2 515.75,112.65 516.05,112.58 516.36,112.74 516.67,112.38 516.98,112.07 517.28,112.59 517.59,112.79 517.9,111.81 518.21,112.58 518.51,112.82 518.82,112.37 519.13,112.31 519.44,112.66 519.74,112.2 520.05,112.59 520.36,112.73 520.67,112.38 520.97,112.2 521.28,112.64 521.59,112.34 521.9,112.47 522.2,111.57 522.51,112.66 522.82,112.01 523.12,112.46 523.43,112.48 523.74,112.22 524.05,112.16 524.36,112.05 524.66,112.34 524.97,112.63 525.28,112.61 525.59,112.28" fill="none" stroke="#8c8c8c" stroke-width="1.6" stroke-linejoin="round" />
<polyline points="494.22,76.91 494.53,111.92" fill="none" stroke="#8c8c8c" stroke-width="0.9" stroke-linejoin="round" stroke-dasharray="1.6,1.2"/>
<text x="463.9" y="116.3" font-family="Liberation Sans" font-size="5" font-weight="normal" fill="#333" text-anchor="end" >0</text>
<text x="463.9" y="106" font-family="Liberation Sans" font-size="5" font-weight="normal" fill="#333" text-anchor="end" >2</text>
<text x="463.9" y="95.7" font-family="Liberation Sans" font-size="5" font-weight="normal" fill="#333" text-anchor="end" >4</text>
<text x="463.9" y="85.4" font-family="Liberation Sans" font-size="5" font-weight="normal" fill="#333" text-anchor="end" >6</text>
<text x="463.9" y="75.1" font-family="Liberation Sans" font-size="5" font-weight="normal" fill="#333" text-anchor="end" >8</text>
<text x="463.9" y="64.8" font-family="Liberation Sans" font-size="5" font-weight="normal" fill="#333" text-anchor="end" >10</text>
<text x="464.7" y="120.6" font-family="Liberation Sans" font-size="5" font-weight="normal" fill="#333" text-anchor="middle" >900</text>
<text x="480.07" y="120.6" font-family="Liberation Sans" font-size="5" font-weight="normal" fill="#333" text-anchor="middle" >1000</text>
<text x="495.45" y="120.6" font-family="Liberation Sans" font-size="5" font-weight="normal" fill="#333" text-anchor="middle" >1100</text>
<text x="510.83" y="120.6" font-family="Liberation Sans" font-size="5" font-weight="normal" fill="#333" text-anchor="middle" >1200</text>
<text x="526.2" y="120.6" font-family="Liberation Sans" font-size="5" font-weight="normal" fill="#333" text-anchor="middle" >1300</text>
<text x="495.5" y="127" font-family="Liberation Sans" font-size="7.6" font-weight="normal" fill="#222" text-anchor="middle" >Time [&#956;s]</text>
<text transform="translate(456.8,94) rotate(-90)" font-family="Liberation Sans" font-size="6.3" fill="#222" text-anchor="middle">I<tspan font-size="4.4" dy="1.5">ph</tspan><tspan dy="-1.5"> [&#956;A]</tspan></text>
<defs><linearGradient id="eg" x1="0" x2="1" y1="0" y2="0"><stop offset="0" stop-color="#97b5de"/><stop offset="0.05" stop-color="#9fbae0"/><stop offset="0.48" stop-color="#c2d3eb"/><stop offset="0.86" stop-color="#dfe6ef"/><stop offset="1" stop-color="#e8edf3"/></linearGradient><marker id="ah" viewBox="0 0 6 6" refX="5" refY="3" markerWidth="5" markerHeight="5" orient="auto"><path d="M0,0.5L6,3L0,5.5z" fill="#3d87cc"/></marker><marker id="ah2" viewBox="0 0 6 6" refX="5.5" refY="3" markerWidth="3.6" markerHeight="3.6" orient="auto" markerUnits="strokeWidth"><path d="M0,0.6L6,3L0,5.4z" fill="#3d7fc4"/></marker></defs>
<rect x="210.2" y="177.2" width="145.4" height="124" fill="url(#eg)"/>
<path d="M211.2,190.8H354.6 M211.2,200H354.6" stroke="#5a95d2" stroke-width="1" stroke-dasharray="4,3" fill="none"/>
<polyline points="210.4,224.65 210.85,228 211.3,229.38 211.75,228.6 212.2,230.45 212.65,231.53 213.1,234.34 213.55,234.84 214,237.26 214.45,235.09 214.9,241.04 215.35,240.13 215.8,241.57 216.25,239.7 216.7,238.6 217.15,238.96 217.6,238.68 218.05,236.52 218.5,235.81 218.95,236.05 219.4,232.83 219.85,230.83 220.3,232.28 220.75,229.72 221.2,227.87 221.65,230.4 222.1,232.16 222.55,233.39 223,235.19 223.45,239.47 223.9,242.84 224.35,243.15 224.8,243.57 225.25,246.2 225.7,247.75 226.15,247.48 226.6,249.44 227.05,250.59 227.5,249.37 227.95,249.03 228.4,251.06 228.85,249.98 229.3,249.78 229.75,245.74 230.2,246.81 230.65,246.79 231.1,245.81 231.55,248.55 232,249.02 232.45,246.88 232.9,249.32 233.35,248.13 233.8,247.44 234.25,246.86 234.7,247.45 235.15,244.21 235.6,246.68 236.05,246.51 236.5,243.15 236.95,245.85 237.4,244.27 237.85,244.11 238.3,240.91 238.75,239.92 239.2,238.85 239.65,236.65 240.1,238.87 240.55,238.16 241,239.2 241.45,238.07 241.9,241.45 242.35,242.13 242.8,242.4 243.25,244.82 243.7,247 244.15,246.8 244.6,241.33 245.05,243.73 245.5,242.24 245.95,240.28 246.4,237.27 246.85,238.54 247.3,233.36 247.75,234.05 248.2,235.43 248.65,234.6 249.1,239.44 249.55,241.17 250,246.36 250.45,247.51 250.9,244.71 251.35,236.09 251.8,234.22 252.25,232.46 252.7,230.16 253.15,225.11 253.6,222.67 254.05,226.52 254.5,228.53 254.95,230.71 255.4,232.43 255.85,236.44 256.3,238.88 256.75,240.89 257.2,243.27 257.65,244.38 258.1,244.36 258.55,245.09 259,241.65 259.45,238.41 259.9,240.6 260.35,239.04 260.8,240.7 261.25,237.47 261.7,236.29 262.15,234.95 262.6,239.59 263.05,242.17 263.5,238.49 263.95,239.63 264.4,242.98 264.85,243.69 265.3,247.08 265.75,249.62 266.2,252.99 266.65,255.89 267.1,255.36 267.55,257.5 268,256.61 268.45,258.54 268.9,254.73 269.35,255.01 269.8,257.38 270.25,254.86 270.7,255.78 271.15,257.72 271.6,260.75 272.05,262.05 272.5,264.31 272.95,264.39 273.4,262.21 273.85,260.77 274.3,259.71 274.75,257.45 275.2,256.48 275.65,254.88 276.1,253.14 276.55,250.13 277,245.78 277.45,245.95 277.9,243.92 278.35,242.64 278.8,239.53 279.25,235.44 279.7,241.33 280.15,255.24 280.6,258.11 281.05,257.07 281.5,254.97 281.95,248.5 282.4,247.63 282.85,247.75 283.3,249.94 283.75,251.96 284.2,253.55 284.65,255.55 285.1,253.51 285.55,254.62 286,253.14 286.45,253.63 286.9,252.14 287.35,252.91 287.8,256.67 288.25,260 288.7,264.02 289.15,267.74 289.6,271.02 290.05,272.92 290.5,268.98 290.95,266.69 291.4,262.69 291.85,259.97 292.3,253.91 292.75,258.03 293.2,256.94 293.65,258.11 294.1,259.97 294.55,260.61 295,262.09 295.45,260.24 295.9,258.88 296.35,258.5 296.8,260.73 297.25,258.34 297.7,257.62 298.15,260.32 298.6,259.32 299.05,264.96 299.5,261.6 299.95,264.43 300.4,262.66 300.85,258.11 301.3,258.62 301.75,257.7 302.2,255.13 302.65,255.52 303.1,257.11 303.55,256.72 304,257.62 304.45,257.66 304.9,257.45 305.35,251.73 305.8,250.47 306.25,245.12 306.7,240.73 307.15,246.27 307.6,251.63 308.05,254.22 308.5,254.91 308.95,256.11 309.4,254.13 309.85,254.14 310.3,254 310.75,250.32 311.2,253.25 311.65,251.13 312.1,251.11 312.55,249.59 313,249.07 313.45,249.38 313.9,251.31 314.35,252 314.8,249.27 315.25,250.32 315.7,248.04 316.15,246.94 316.6,251.29 317.05,253.25 317.5,253.64 317.95,256.19 318.4,257.56 318.85,254.69 319.3,252.92 319.75,253.68 320.2,252.76 320.65,251.63 321.1,254.13 321.55,256.03 322,254.04 322.45,256.44 322.9,257.67 323.35,257.81 323.8,257.81 324.25,255.42 324.7,256.5 325.15,257.78 325.6,255.68 326.05,254.38 326.5,256.95 326.95,258.76 327.4,258.47 327.85,258.13 328.3,260.5 328.75,254.51 329.2,254.67 329.65,251.75 330.1,247.95 330.55,248.99 331,249.54 331.45,249.71 331.9,254.31 332.35,255.13 332.8,255.36 333.25,258.77 333.7,260.96 334.15,262.36 334.6,262.62 335.05,263.36 335.5,264.83 335.95,263.77 336.4,265.19 336.85,263.35 337.3,263.1 337.75,262.98 338.2,261.56 338.65,264.24 339.1,269.48 339.55,270.08 340,271.46 340.45,274.52 340.9,274.43 341.35,276.34 341.8,275.95 342.25,278.1 342.7,276.48 343.15,282.08 343.6,282.85 344.05,284.66 344.5,289.75 344.95,288.53 345.4,284.8 345.85,278.61 346.3,277.53 346.75,283.21 347.2,277.91 347.65,281.42 348.1,280.29 348.55,278.74 349,273.8 349.45,272.46 349.9,272.4 350.35,269.5 350.8,269.77 351.25,264.65 351.7,263.88 352.15,265.71 352.6,259.63 353.05,258.34 353.5,258.4 353.95,264.99 354.4,275.01" fill="none" stroke="#5a5a5a" stroke-width="1.6" stroke-linejoin="round" />
<polyline points="210.4,190.8 210.85,190.55 211.3,191.04 211.75,192.11 212.2,191.66 212.65,190.14 213.1,191.3 213.55,191.11 214,191.87 214.45,191.76 214.9,192.81 215.35,192.62 215.8,192.81 216.25,192.74 216.7,192.86 217.15,193.22 217.6,193.8 218.05,193.65 218.5,193.44 218.95,194.24 219.4,193.96 219.85,194 220.3,193.87 220.75,194.11 221.2,194.23 221.65,193.25 222.1,194.62 222.55,194.29 223,193.83 223.45,194.19 223.9,193.79 224.35,193.62 224.8,192.33 225.25,193.13 225.7,193.39 226.15,193.78 226.6,193.83 227.05,193.62 227.5,192.54 227.95,192.08 228.4,193.14 228.85,192.88 229.3,193.21 229.75,192.72 230.2,192.86 230.65,192.22 231.1,193.04 231.55,192.73 232,193.09 232.45,193.18 232.9,192.99 233.35,193.21 233.8,193.12 234.25,193.48 234.7,193.42 235.15,193.01 235.6,192.92 236.05,193.79 236.5,192.98 236.95,193.35 237.4,193.05 237.85,192.6 238.3,192.46 238.75,192.74 239.2,192.72 239.65,192.8 240.1,191.96 240.55,192.07 241,192.11 241.45,192.63 241.9,190.89 242.35,191.85 242.8,191.3 243.25,191.54 243.7,191.01 244.15,191.19 244.6,191.52 245.05,190.88 245.5,190.8 245.95,190.66 246.4,190.1 246.85,190.5 247.3,190.09 247.75,189.74 248.2,189.93 248.65,189.75 249.1,190.03 249.55,189.6 250,189.29 250.45,190.13 250.9,189.99 251.35,190.14 251.8,189.92 252.25,189.68 252.7,189.6 253.15,189.7 253.6,190.24 254.05,189.95 254.5,189.36 254.95,189.98 255.4,189.55 255.85,190.32 256.3,189.91 256.75,190.02 257.2,190.71 257.65,190.76 258.1,190.27 258.55,191.36 259,192.07 259.45,190.74 259.9,192.2 260.35,190.77 260.8,190.26 261.25,189.8 261.7,188.71 262.15,189.22 262.6,188.5 263.05,188.22 263.5,188.64 263.95,188.37 264.4,189.06 264.85,189.8 265.3,188.89 265.75,189.51 266.2,189.86 266.65,190.33 267.1,190.56 267.55,189.95 268,189.95 268.45,190.54 268.9,190.33 269.35,190.46 269.8,191.13 270.25,191.45 270.7,190.93 271.15,190.79 271.6,191.14 272.05,190.2 272.5,190.99 272.95,190.62 273.4,192.05 273.85,191.42 274.3,191.24 274.75,191.15 275.2,190.23 275.65,191.5 276.1,191.85 276.55,190.88 277,191.42 277.45,191.42 277.9,190.49 278.35,191.46 278.8,191.6 279.25,191.13 279.7,190.99 280.15,191.29 280.6,190.29 281.05,190.88 281.5,191.2 281.95,190.21 282.4,191.04 282.85,190.41 283.3,189.67 283.75,190.4 284.2,189.98 284.65,190.43 285.1,189.76 285.55,190.56 286,189.75 286.45,190.1 286.9,189.63 287.35,189.65 287.8,190.17 288.25,189.69 288.7,189.35 289.15,189.08 289.6,190.13 290.05,190.79 290.5,189.39 290.95,190.28 291.4,188.94 291.85,190.12 292.3,191.54 292.75,194.35 293.2,195.36 293.65,194.92 294.1,198.01 294.55,199.09 295,199.24 295.45,201.22 295.9,200.13 296.35,201.14 296.8,202.72 297.25,202.78 297.7,204.66 298.15,202.47 298.6,206.9 299.05,204.48 299.5,206.02 299.95,205 300.4,208.44 300.85,210.06 301.3,210.45 301.75,210.79 302.2,208.12 302.65,209.95 303.1,211.3 303.55,211.54 304,215.32 304.45,214.91 304.9,215.52 305.35,216.61 305.8,214.82 306.25,215.1 306.7,215.37 307.15,217.52 307.6,217.63 308.05,218.63 308.5,220.01 308.95,217.27 309.4,219.07 309.85,220.73 310.3,219.16 310.75,220.75 311.2,223.37 311.65,223.94 312.1,224.36 312.55,223.34 313,223.2 313.45,225.24 313.9,223.43 314.35,224.65 314.8,226.26 315.25,224.36 315.7,224.7 316.15,226.21 316.6,227.74 317.05,228.25 317.5,228.47 317.95,229.93 318.4,227.81 318.85,229.75 319.3,232.08 319.75,231.45 320.2,231.47 320.65,231.88 321.1,232.51 321.55,233.78 322,232.82 322.45,234.8 322.9,237.27 323.35,235.14 323.8,237.58 324.25,236.65 324.7,235.13 325.15,236.56 325.6,235.31 326.05,237.52 326.5,234.6 326.95,238.21 327.4,240.39 327.85,239.98 328.3,245.21 328.75,245.19 329.2,240.81 329.65,242.2 330.1,237.2 330.55,238.98 331,234.78 331.45,236.22 331.9,231.47 332.35,228.72 332.8,231.4 333.25,233.93 333.7,232.67 334.15,237.44 334.6,237.65 335.05,237.5 335.5,239.26 335.95,241.15 336.4,237.57 336.85,240.42 337.3,239.44 337.75,236.3 338.2,239.89 338.65,239.69 339.1,234.96 339.55,239.08 340,237.89 340.45,238.74 340.9,242.24 341.35,241.61 341.8,242.95 342.25,245.95 342.7,246.96 343.15,247.74 343.6,245.86 344.05,246.95 344.5,251.91 344.95,250.13 345.4,252.74 345.85,252.12 346.3,254.47 346.75,253.66 347.2,255.44 347.65,249.44 348.1,249.33 348.55,249 349,250.72 349.45,246.81 349.9,248.51 350.35,248.03 350.8,247.76 351.25,246.23 351.7,243.48 352.15,243.02 352.6,241.02 353.05,241.22 353.5,239.44 353.95,237.69 354.4,242.76 355.2,232 355.2,219" fill="none" stroke="#f2506a" stroke-width="1.5" stroke-linejoin="round" />
<rect x="210.2" y="177.2" width="145.4" height="124" fill="none" stroke="#2a2a2a" stroke-width="1.3"/>
<path d="M210.2,301.1h2.5M210.2,287.42h1.6M210.2,273.75h2.5M210.2,260.07h1.6M210.2,246.4h2.5M210.2,232.72h1.6M210.2,219.05h2.5M210.2,205.38h1.6M210.2,191.7h2.5M210.2,178.02h1.6M253.97,301.2v-1.6M279.57,301.2v-1.6M297.74,301.2v-1.6M311.83,301.2v-2.5M323.34,301.2v-1.6M333.08,301.2v-1.6M341.51,301.2v-1.6M348.95,301.2v-1.6M355.6,301.2v-2.5" stroke="#2a2a2a" stroke-width="0.9" fill="none"/>
<text x="206.8" y="194.8" font-family="Liberation Sans" font-size="9.6" font-weight="bold" fill="#222" text-anchor="end" textLength="4.4" lengthAdjust="spacingAndGlyphs" >0</text>
<text x="206.8" y="221.7" font-family="Liberation Sans" font-size="9.6" font-weight="bold" fill="#222" text-anchor="end" textLength="13.6" lengthAdjust="spacingAndGlyphs" >&#8211;10</text>
<text x="206.8" y="249.6" font-family="Liberation Sans" font-size="9.6" font-weight="bold" fill="#222" text-anchor="end" textLength="13.6" lengthAdjust="spacingAndGlyphs" >&#8211;20</text>
<text x="206.8" y="277.9" font-family="Liberation Sans" font-size="9.6" font-weight="bold" fill="#222" text-anchor="end" textLength="13.6" lengthAdjust="spacingAndGlyphs" >&#8211;30</text>
<text x="206.8" y="305.7" font-family="Liberation Sans" font-size="9.6" font-weight="bold" fill="#222" text-anchor="end" textLength="13.6" lengthAdjust="spacingAndGlyphs" >&#8211;40</text>
<text x="311.83" y="310.6" font-family="Liberation Sans" font-size="7.6" font-weight="normal" fill="#333" text-anchor="middle" >100</text>
<text x="355.1" y="310.6" font-family="Liberation Sans" font-size="7.6" font-weight="normal" fill="#333" text-anchor="middle" >200</text>
<text x="283" y="318.6" font-family="Liberation Sans" font-size="8" font-weight="bold" fill="#222" text-anchor="middle" textLength="57.5" lengthAdjust="spacingAndGlyphs" >Frequency (MHz)</text>
<text transform="translate(188.8,234.9) rotate(-90)" font-family="Liberation Sans" font-size="7.8" font-weight="bold" fill="#333" text-anchor="middle" textLength="78.2" lengthAdjust="spacingAndGlyphs">Relative response (dB)</text>
<text x="271" y="220.9" font-family="Liberation Sans" font-size="7.4" font-weight="bold" fill="#3d87cc" text-anchor="start" textLength="25" lengthAdjust="spacingAndGlyphs" >77 MHz</text>
<path d="M286.5,212 L294.3,202" stroke="#3d87cc" stroke-width="1" marker-end="url(#ah)"/>
<polyline points="213.9,281.6 233.5,281.6" fill="none" stroke="#5b5b5b" stroke-width="1.4" stroke-linejoin="round" />
<polyline points="213.9,292.9 233.5,292.9" fill="none" stroke="#f2506a" stroke-width="1.4" stroke-linejoin="round" />
<text x="236.4" y="284.7" font-family="Liberation Sans" font-size="7.4" font-weight="normal" fill="#333" text-anchor="start" textLength="15.4" lengthAdjust="spacingAndGlyphs" >Dark</text>
<text x="236.4" y="296.2" font-family="Liberation Sans" font-size="7.4" font-weight="normal" fill="#333" text-anchor="start" textLength="29" lengthAdjust="spacingAndGlyphs" >1550 nm</text>
<polyline points="396,224.66 396.5,225.01 397,224.51 397.5,224.65 398,224.86 398.5,224.22 399,224.28 399.5,224.38 400,224.57 400.5,225.03 401,224.66 401.5,224.8 402,224.55 402.5,224.14 403,224.17 403.5,224.77 404,224.62 404.5,224.35 405,224.78 405.5,224.3 406,224.78 406.5,224.84 407,224.44 407.5,224.37 408,224.72 408.5,224.37 409,224.73 409.5,224.35 410,224.71 410.5,224.58 411,224.49 411.5,224.4 412,224.61 412.5,224.22 413,224.51 413.5,224.49 414,224.68 414.5,224.33 415,224.87 415.5,224.5 416,224.35 416.5,224.8 417,224.85 417.5,224.52 418,224.39 418.5,224.55 419,224.42 419.5,224.49 420,224.83 420.5,224.61 421,224.57 421.5,224.6 422,224.53 422.5,224.69 423,224.7 423.5,224.47 424,224.56 424.5,224.97 425,224.61 425.5,224.5 426,224.9 426.5,224.53 427,224.33 427.5,224.65 428,224.37 428.5,224.44 429,224.58 429.5,224.5 430,224.39 430.5,224.42 431,224.41 431.5,224.73 432,224.39 432.5,224.41 433,224.88 433.5,224.42 434,224.78 434.5,224.75 435,224.48 435.5,224.25 436,224.59 436.5,224.63 437,224.68 437.5,224.52 438,224.72 438.5,224.75 439,224.31 439.5,224.75 440,224.51 440.5,224.34 441,224.34 441.5,224.69 442,224.48 442.5,223.93 443,224.22 443.5,224.12 444,224.07 444.5,223.94 445,223.68 445.5,223.96 446,223.47 446.5,223.33 447,222.9 447.5,222.27 448,221.77 448.5,220.81 449,219.5 449.5,217.94 450,216.17 450.5,214.38 451,212.12 451.5,210.01 452,207.76 452.5,205.6 453,203.51 453.5,200.95 454,199.35 454.5,196.67 455,194.46 455.5,192.62 456,190.44 456.5,188.74 457,187.18 457.5,185.71 458,184.98 458.5,184.46 459,183.62 459.5,183.71 460,183.13 460.5,183.33 461,183.88 461.5,184.27 462,185.19 462.5,186.14 463,187.6 463.5,189.14 464,191.18 464.5,193.41 465,195.78 465.5,198.67 466,201.2 466.5,203.79 467,207.52 467.5,209.88 468,212.76 468.5,216.11 469,218.76 469.5,220.66 470,222.6 470.5,224.37 471,226.07 471.5,226.84 472,227.53 472.5,228.19 473,228.77 473.5,228.6 474,229.06 474.5,229.11 475,229.89 475.5,229.8 476,229.51 476.5,229.15 477,229.12 477.5,228.45 478,228.7 478.5,228.23 479,228.03 479.5,227.9 480,227.68 480.5,227.53 481,227.23 481.5,226.83 482,226.29 482.5,226.27 483,225.81 483.5,225.74 484,225.09 484.5,224.5 485,224.66 485.5,224.89 486,224.33 486.5,223.97 487,223.91 487.5,223.59 488,223.35 488.5,222.96 489,222.92 489.5,222.83 490,222.6 490.5,222.44 491,222.6 491.5,222.67 492,222.55 492.5,222.47 493,222.46 493.5,222.86 494,222.51 494.5,222.72 495,222.95 495.5,222.68 496,222.79 496.5,223.01 497,223.21 497.5,223.07 498,223.2 498.5,223.27 499,223.17 499.5,223.71 500,223.59 500.5,223.46 501,223.87 501.5,223.71 502,223.96 502.5,224.26 503,224.18 503.5,224.59 504,224.16 504.5,224.48 505,224.55 505.5,224.72 506,224.64 506.5,224.53 507,224.51 507.5,224.5 508,224.73 508.5,224.41 509,224.64 509.5,224.54 510,224.61 510.5,224.53 511,224.97 511.5,224.47 512,224.63 512.5,224.63 513,224.68 513.5,224.64 514,224.63 514.5,224.72 515,224.26 515.5,224.53 516,224.29 516.5,224.55 517,224.28 517.5,224.31 518,224.47 518.5,224.72 519,224.56 519.5,224.5 520,224.69 520.5,224.26 521,224.04 521.5,224.34 522,224.36 522.5,224.63 523,224.79 523.5,224.16 524,224.85 524.5,224.68 525,224.55 525.5,224.47 526,224.84 526.5,224.42 527,224.32 527.5,224.43 528,224.16 528.5,224.49 529,224.38 529.5,224.46 530,224.47 530.5,224.21 531,224.64 531.5,224.22 532,224.56 532.5,224.12 533,224.47 533.5,224.25 534,224.41 534.5,224.29 535,224.01 535.5,224.2 536,224.42 536.5,224.52 537,224.14 537.5,224.02 538,224.25 538.5,224.36 539,224.29 539.5,224.26" fill="none" stroke="#f0262a" stroke-width="1.3" stroke-linejoin="round" />
<polyline points="396,292.3 396.5,292.34 397,292.27 397.5,291.68 398,292.03 398.5,291.94 399,291.51 399.5,292.31 400,292.04 400.5,291.84 401,292.5 401.5,292.27 402,292.3 402.5,292.43 403,292.26 403.5,291.56 404,291.87 404.5,292.36 405,291.74 405.5,292.02 406,292.14 406.5,292.51 407,292.46 407.5,292.32 408,291.94 408.5,292.33 409,292.19 409.5,291.95 410,292.48 410.5,292.18 411,291.74 411.5,292.45 412,291.92 412.5,292.21 413,291.47 413.5,292 414,291.67 414.5,291.66 415,291.34 415.5,292.75 416,291.95 416.5,292.09 417,292.39 417.5,291.96 418,292.18 418.5,291.53 419,292.07 419.5,291.86 420,292.18 420.5,292.07 421,291.52 421.5,291.36 422,291.65 422.5,292.26 423,292.15 423.5,292.14 424,291.3 424.5,291.06 425,291.78 425.5,291.89 426,291.79 426.5,292.13 427,291.94 427.5,291.59 428,291.69 428.5,292.05 429,292.03 429.5,291.98 430,292.8 430.5,291.91 431,292.04 431.5,291.65 432,291.88 432.5,292.18 433,292.2 433.5,291.95 434,292.14 434.5,292.02 435,291.34 435.5,290.85 436,292.81 436.5,292.29 437,291.98 437.5,291.39 438,291.55 438.5,292.47 439,291.02 439.5,291.89 440,292.3 440.5,292.05 441,292.26 441.5,291.95 442,292.84 442.5,291.64 443,291.52 443.5,292.1 444,292.5 444.5,291.98 445,292.37 445.5,291.81 446,291.59 446.5,292.49 447,292.55 447.5,292.54 448,291.85 448.5,291.6 449,291.59 449.5,291.92 450,292.2 450.5,292.18 451,291.46 451.5,291.57 452,290.06 452.5,287.16 453,281.85 453.5,275.5 454,269.84 454.5,264.84 455,260.73 455.5,256.47 456,253.37 456.5,250.91 457,248.98 457.5,248.99 458,247.91 458.5,247.73 459,247 459.5,246.8 460,246.84 460.5,246.93 461,247.11 461.5,247.3 462,249.72 462.5,249.89 463,251.7 463.5,253.41 464,254.64 464.5,256.02 465,257.41 465.5,258.89 466,259.88 466.5,262.21 467,262.54 467.5,264.91 468,266.72 468.5,268.67 469,270.97 469.5,273.29 470,274.16 470.5,275.44 471,277.09 471.5,278.17 472,279.8 472.5,280.61 473,281.36 473.5,281.97 474,282.86 474.5,283.42 475,283.7 475.5,284.86 476,285.38 476.5,285.71 477,285.85 477.5,286.76 478,286.58 478.5,286.83 479,286.45 479.5,286.48 480,286.9 480.5,287.25 481,287.21 481.5,287.43 482,288 482.5,287.9 483,287.53 483.5,287.8 484,287.78 484.5,288.14 485,287.74 485.5,288.15 486,288.52 486.5,288.36 487,288.09 487.5,288.26 488,288.59 488.5,288.78 489,288.97 489.5,288.7 490,288.35 490.5,289.38 491,289.05 491.5,289.16 492,289.19 492.5,288.78 493,289.09 493.5,289.34 494,289.65 494.5,289.35 495,288.28 495.5,289.33 496,289.58 496.5,289.95 497,289.78 497.5,290.45 498,290.12 498.5,290.13 499,290.03 499.5,289.26 500,290.08 500.5,290.03 501,289.68 501.5,290.11 502,290.09 502.5,289.82 503,289.98 503.5,289.98 504,290.19 504.5,290 505,290.38 505.5,289.56 506,290.17 506.5,289.72 507,290.19 507.5,290.58 508,290.44 508.5,290.44 509,290.54 509.5,291.11 510,290.21 510.5,290.93 511,290.11 511.5,290.5 512,290.74 512.5,290.41 513,290.8 513.5,291.01 514,290.36 514.5,290.77 515,290.69 515.5,290.16 516,290.8 516.5,290.6 517,291.37 517.5,290.62 518,291.54 518.5,290.78 519,291.67 519.5,291.2 520,291.2 520.5,291.34 521,291.4 521.5,291.59 522,291.73 522.5,291.02 523,290.73 523.5,290.25 524,291.08 524.5,291.5 525,291.39 525.5,291.32 526,291.18 526.5,291.1 527,291.24 527.5,291.5 528,290.77 528.5,291.66 529,290.92 529.5,291.4 530,291.25 530.5,291.36 531,291.15 531.5,291.13 532,291.48 532.5,291.2 533,292.46 533.5,291.48 534,291.42 534.5,291.47 535,291.31 535.5,290.85 536,291.64 536.5,291.86 537,291.25 537.5,291.8 538,291.4 538.5,291.83 539,291.99 539.5,292.05" fill="none" stroke="#f24662" stroke-width="1.6" stroke-linejoin="round" />
<polyline points="396,295.35 396.5,294.95 397,295.51 397.5,295.04 398,295.32 398.5,295.44 399,295.09 399.5,294.75 400,295.41 400.5,294.81 401,294.89 401.5,294.81 402,295.49 402.5,295.14 403,294.41 403.5,295.45 404,295.92 404.5,295.83 405,295 405.5,295.22 406,295.37 406.5,295.51 407,295.21 407.5,294.81 408,295.46 408.5,295.41 409,294.73 409.5,295.07 410,295.29 410.5,295.2 411,295.38 411.5,295.47 412,295.39 412.5,295.16 413,294.72 413.5,295.41 414,295.69 414.5,295.89 415,295.18 415.5,295.18 416,295.7 416.5,295.7 417,295.31 417.5,295.45 418,294.93 418.5,295.4 419,294.91 419.5,295.14 420,295.15 420.5,295.03 421,294.46 421.5,294.91 422,295.31 422.5,295.17 423,295.06 423.5,295.35 424,295.44 424.5,295.49 425,294.91 425.5,295.2 426,295.08 426.5,294.89 427,294.67 427.5,295.16 428,294.89 428.5,295.95 429,295.16 429.5,295.12 430,295.05 430.5,295.85 431,294.86 431.5,295.14 432,294.92 432.5,295.15 433,295.18 433.5,295.58 434,294.7 434.5,295.19 435,295.76 435.5,295.02 436,295.13 436.5,294.88 437,294.28 437.5,295.16 438,295.61 438.5,295.03 439,294.55 439.5,295.29 440,295.22 440.5,295.54 441,295.51 441.5,295.1 442,295.33 442.5,294.56 443,295.58 443.5,295.26 444,295.57 444.5,295.57 445,295.09 445.5,295.14 446,294.89 446.5,294.47 447,295.15 447.5,295.25 448,294.81 448.5,295.44 449,295.23 449.5,295.35 450,294.92 450.5,294.58 451,295.43 451.5,294.91 452,293.21 452.5,290.18 453,284.95 453.5,278.71 454,272.65 454.5,267.29 455,264.12 455.5,259.38 456,256.3 456.5,254.04 457,253.01 457.5,251.45 458,251.62 458.5,250.83 459,250.53 459.5,250.48 460,249.68 460.5,249.03 461,250.58 461.5,251.58 462,252.68 462.5,253.45 463,254.98 463.5,256.48 464,257.08 464.5,258.79 465,260.11 465.5,262.2 466,262.74 466.5,264.94 467,266.1 467.5,267.44 468,270.82 468.5,271.72 469,274.28 469.5,276.58 470,277.42 470.5,278.45 471,280.4 471.5,281.2 472,281.89 472.5,283.07 473,284.34 473.5,285.62 474,285.89 474.5,286.91 475,287.95 475.5,288.5 476,289.15 476.5,289.43 477,288.63 477.5,289.79 478,289.65 478.5,289.66 479,289.49 479.5,289.48 480,289.81 480.5,290.36 481,290.12 481.5,290.41 482,290.64 482.5,291.22 483,290.97 483.5,291.1 484,291.68 484.5,291.17 485,291.56 485.5,291.04 486,291.6 486.5,291.59 487,291.67 487.5,291.52 488,291.39 488.5,291.71 489,291.72 489.5,292.31 490,292.33 490.5,291.66 491,292.37 491.5,292.05 492,292.44 492.5,292.18 493,291.89 493.5,292.8 494,292.65 494.5,292.1 495,291.91 495.5,292.43 496,292.24 496.5,292.57 497,292.95 497.5,293.29 498,292.69 498.5,293.34 499,293.31 499.5,292.79 500,292.4 500.5,293.32 501,293.28 501.5,293.93 502,293.65 502.5,293.46 503,293.82 503.5,292.9 504,293.38 504.5,293.26 505,294 505.5,293.63 506,292.4 506.5,294 507,293.24 507.5,293.87 508,293.47 508.5,293.77 509,293.94 509.5,293.83 510,293.47 510.5,294.32 511,293.99 511.5,293.86 512,294.14 512.5,293.73 513,294.6 513.5,294.04 514,294.11 514.5,294.12 515,293.7 515.5,293.64 516,294.14 516.5,294.21 517,294.58 517.5,294.29 518,293.77 518.5,294.36 519,294.49 519.5,294.57 520,294.36 520.5,293.84 521,294.69 521.5,294.05 522,294.53 522.5,293.8 523,294.64 523.5,294.12 524,294.8 524.5,295.06 525,294.87 525.5,294.07 526,294.17 526.5,294.22 527,294.78 527.5,294.69 528,294.65 528.5,294.72 529,294.84 529.5,294.88 530,295.27 530.5,294.68 531,294.79 531.5,294.09 532,294.3 532.5,294.54 533,294.39 533.5,294.91 534,295.22 534.5,294.72 535,294.72 535.5,294.74 536,294.98 536.5,294.77 537,295.13 537.5,295.11 538,295.14 538.5,295.31 539,295.08 539.5,295.13" fill="none" stroke="#f24662" stroke-width="1.6" stroke-linejoin="round" />
<polyline points="396,294.22 396.5,293.59 397,293.88 397.5,293.62 398,293.44 398.5,293.44 399,293.31 399.5,293.6 400,293.39 400.5,293.45 401,294.03 401.5,293.55 402,294 402.5,293.69 403,293.9 403.5,293.39 404,293.65 404.5,294.52 405,293.89 405.5,293.95 406,293.68 406.5,293.9 407,293.19 407.5,293.3 408,293.75 408.5,293.89 409,293.45 409.5,293.53 410,293.47 410.5,293.53 411,293.18 411.5,293.1 412,293.57 412.5,292.99 413,293.25 413.5,293.36 414,293.23 414.5,293.68 415,293.44 415.5,293.57 416,293.24 416.5,293.33 417,293.77 417.5,293.72 418,293.43 418.5,293.72 419,293.66 419.5,293.65 420,294.15 420.5,293.45 421,293.74 421.5,293.74 422,293.51 422.5,293.18 423,293.83 423.5,293.68 424,293.61 424.5,293.6 425,293.6 425.5,293.27 426,293.69 426.5,292.96 427,293.58 427.5,293.06 428,293.46 428.5,293.84 429,293.49 429.5,293.42 430,293.76 430.5,293.49 431,293.44 431.5,293.45 432,294.11 432.5,293.81 433,293.75 433.5,293.17 434,293.8 434.5,293.13 435,293.75 435.5,293.19 436,294.26 436.5,292.99 437,294.01 437.5,293.86 438,292.96 438.5,293.49 439,294.08 439.5,293.98 440,293 440.5,293.4 441,293.17 441.5,293.22 442,293.35 442.5,294.22 443,293.62 443.5,293.5 444,293.46 444.5,293.81 445,293.82 445.5,293.26 446,294.09 446.5,293.2 447,293.48 447.5,293.74 448,294.18 448.5,293.46 449,293.68 449.5,294.03 450,293.8 450.5,293.97 451,293.9 451.5,293.17 452,291.85 452.5,289.03 453,283.43 453.5,277.7 454,270.52 454.5,266.05 455,262.74 455.5,258.44 456,254.58 456.5,252.66 457,251.68 457.5,250.2 458,249.85 458.5,248.94 459,248.6 459.5,248.39 460,248.74 460.5,248.12 461,248.72 461.5,249.73 462,250.23 462.5,251.46 463,253.59 463.5,254.76 464,256.04 464.5,257.45 465,258.38 465.5,261.05 466,261.01 466.5,262.62 467,263.98 467.5,266.26 468,268.95 468.5,270.44 469,272.65 469.5,274.19 470,276.62 470.5,277.32 471,277.98 471.5,279.83 472,280.57 472.5,282.04 473,282.9 473.5,283.75 474,284.41 474.5,284.74 475,285.23 475.5,286.78 476,286.97 476.5,287.47 477,287.41 477.5,287.04 478,287.46 478.5,288.57 479,287.97 479.5,288.28 480,288.06 480.5,288.56 481,288.78 481.5,289 482,289.21 482.5,289.15 483,289.25 483.5,289.52 484,289.7 484.5,289.61 485,290.33 485.5,289.86 486,289.91 486.5,289.69 487,290.35 487.5,289.7 488,289.56 488.5,289.85 489,290.47 489.5,289.92 490,290.84 490.5,290.45 491,289.99 491.5,290.51 492,291.28 492.5,290.42 493,290.32 493.5,291 494,291.32 494.5,291.26 495,290.83 495.5,291.05 496,291.14 496.5,291.48 497,291.86 497.5,291.11 498,291.65 498.5,291.11 499,291.48 499.5,290.99 500,291.09 500.5,291.54 501,291.12 501.5,291.79 502,291.33 502.5,291.59 503,291.57 503.5,291.53 504,291.73 504.5,292.1 505,292.85 505.5,291.39 506,291.95 506.5,291.83 507,291.61 507.5,292.07 508,291.7 508.5,292.02 509,292.53 509.5,291.43 510,292.26 510.5,292.35 511,291.88 511.5,292.42 512,292.39 512.5,292.16 513,292.73 513.5,291.87 514,292.57 514.5,292.29 515,292.02 515.5,292.35 516,292.31 516.5,292.75 517,291.96 517.5,292.43 518,292.36 518.5,293.1 519,292.18 519.5,292.96 520,292 520.5,292.75 521,292.61 521.5,292.81 522,292.45 522.5,292.04 523,292.2 523.5,293.22 524,292.86 524.5,292.5 525,293.14 525.5,292.59 526,292.61 526.5,292.47 527,293.32 527.5,293.62 528,292.62 528.5,293.08 529,293.34 529.5,293.76 530,292.2 530.5,293.11 531,293.31 531.5,292.59 532,293.27 532.5,293.22 533,293.42 533.5,292.99 534,293.36 534.5,293.02 535,293.47 535.5,293.33 536,293.17 536.5,292.83 537,293.92 537.5,293.75 538,293.7 538.5,293.18 539,293.31 539.5,294.03" fill="none" stroke="#f24662" stroke-width="2.4" stroke-linejoin="round" />
<path d="M448.9,178.5V238.6 M469.4,178.5V238.6 M453.1,239.8V300 M475.1,239.8V300" stroke="#5b9bd5" stroke-width="1" stroke-dasharray="1.2,1.2" fill="none"/>
<rect x="395.6" y="177.8" width="144.7" height="122.8" fill="none" stroke="#333" stroke-width="1.3"/>
<path d="M395.6,239.2H540.3" stroke="#333" stroke-width="1.3"/>
<path d="M413.76,300.6v-2M413.76,239.2v-2M431.73,300.6v-2M431.73,239.2v-2M449.69,300.6v-2M449.69,239.2v-2M467.65,300.6v-2M467.65,239.2v-2M485.61,300.6v-2M485.61,239.2v-2M503.57,300.6v-2M503.57,239.2v-2M521.54,300.6v-2M521.54,239.2v-2M395.6,182.7h1.3M395.6,187.42h2.2M395.6,192.14h1.3M395.6,196.86h2.2M395.6,201.58h1.3M395.6,206.3h2.2M395.6,211.02h1.3M395.6,215.74h2.2M395.6,220.46h1.3M395.6,225.18h2.2M395.6,229.9h1.3M395.6,234.62h2.2M395.6,245.2h1.3M395.6,250.8h2.2M395.6,256.4h1.3M395.6,262h2.2M395.6,267.6h1.3M395.6,273.2h2.2M395.6,278.8h1.3M395.6,284.4h2.2M395.6,290h1.3" stroke="#333" stroke-width="0.9" fill="none"/>
<text x="395.8" y="307.6" font-family="Liberation Sans" font-size="7.8" font-weight="normal" fill="#333" text-anchor="middle" >1.0</text>
<text x="431.73" y="307.6" font-family="Liberation Sans" font-size="7.8" font-weight="normal" fill="#333" text-anchor="middle" >1.5</text>
<text x="467.65" y="307.6" font-family="Liberation Sans" font-size="7.8" font-weight="normal" fill="#333" text-anchor="middle" >2.0</text>
<text x="503.57" y="307.6" font-family="Liberation Sans" font-size="7.8" font-weight="normal" fill="#333" text-anchor="middle" >2.5</text>
<text x="539.5" y="307.6" font-family="Liberation Sans" font-size="7.8" font-weight="normal" fill="#333" text-anchor="middle" >3.0</text>
<text x="468.2" y="315.3" font-family="Liberation Sans" font-size="8.2" font-weight="bold" fill="#222" text-anchor="middle" textLength="32" lengthAdjust="spacingAndGlyphs" >Time (&#956;s)</text>
<text transform="translate(378,210.5) rotate(-90)" font-family="Liberation Sans" font-size="7.8" font-weight="bold" fill="#222" text-anchor="middle" textLength="20.5" lengthAdjust="spacingAndGlyphs">Signal</text>
<text transform="translate(387.5,211) rotate(-90)" font-family="Liberation Sans" font-size="7.8" font-weight="bold" fill="#222" text-anchor="middle" textLength="45" lengthAdjust="spacingAndGlyphs">density (a.u.)</text>
<text transform="translate(379,268) rotate(-90)" font-family="Liberation Sans" font-size="7.8" font-weight="bold" fill="#222" text-anchor="middle" textLength="46" lengthAdjust="spacingAndGlyphs">Photocurrent</text>
<text transform="translate(388.4,267.2) rotate(-90)" font-family="Liberation Sans" font-size="7.8" font-weight="bold" fill="#222" text-anchor="middle" textLength="43" lengthAdjust="spacingAndGlyphs">density (a.u.)</text>
<text x="399.5" y="186.7" font-family="Liberation Sans" font-size="6.4" font-weight="normal" fill="#5b9bd5" text-anchor="start" textLength="22.4" lengthAdjust="spacingAndGlyphs" >3980 nm</text>
<text x="399.5" y="247.6" font-family="Liberation Sans" font-size="6.4" font-weight="normal" fill="#5b9bd5" text-anchor="start" textLength="22.4" lengthAdjust="spacingAndGlyphs" >3980 nm</text>
<text x="424.3" y="201.4" font-family="Liberation Sans" font-size="8.2" font-weight="normal" fill="#3d87cc" text-anchor="start" textLength="22" lengthAdjust="spacingAndGlyphs" >300 ns</text>
<text x="430" y="259" font-family="Liberation Sans" font-size="8.2" font-weight="normal" fill="#3d87cc" text-anchor="start" textLength="21.5" lengthAdjust="spacingAndGlyphs" >300 ns</text>
<path d="M426.4,190.3H448" stroke="#4a8ccc" stroke-width="1" marker-end="url(#ah2)"/>
<path d="M488,190.4H470" stroke="#4a8ccc" stroke-width="1" marker-end="url(#ah2)"/>
<path d="M432,248H452.3" stroke="#4a8ccc" stroke-width="1" marker-end="url(#ah2)"/>
<path d="M493.5,247.6H475.8" stroke="#4a8ccc" stroke-width="1" marker-end="url(#ah2)"/>
<text x="486" y="188.2" font-family="Liberation Sans" font-size="6.8" font-weight="normal" fill="#444" text-anchor="start" textLength="51.7" lengthAdjust="spacingAndGlyphs" >Laser analog output</text>
<text x="496.8" y="247.4" font-family="Liberation Sans" font-size="5.6" font-weight="bold" fill="#222" text-anchor="start" textLength="34.6" lengthAdjust="spacingAndGlyphs" >vdWs-on-MCT</text>
<text x="499.3" y="256.4" font-family="Liberation Sans" font-size="6.9" font-weight="normal" fill="#555" text-anchor="start" textLength="37.7" lengthAdjust="spacingAndGlyphs" >photodetector</text>
</svg>
</body></html>
